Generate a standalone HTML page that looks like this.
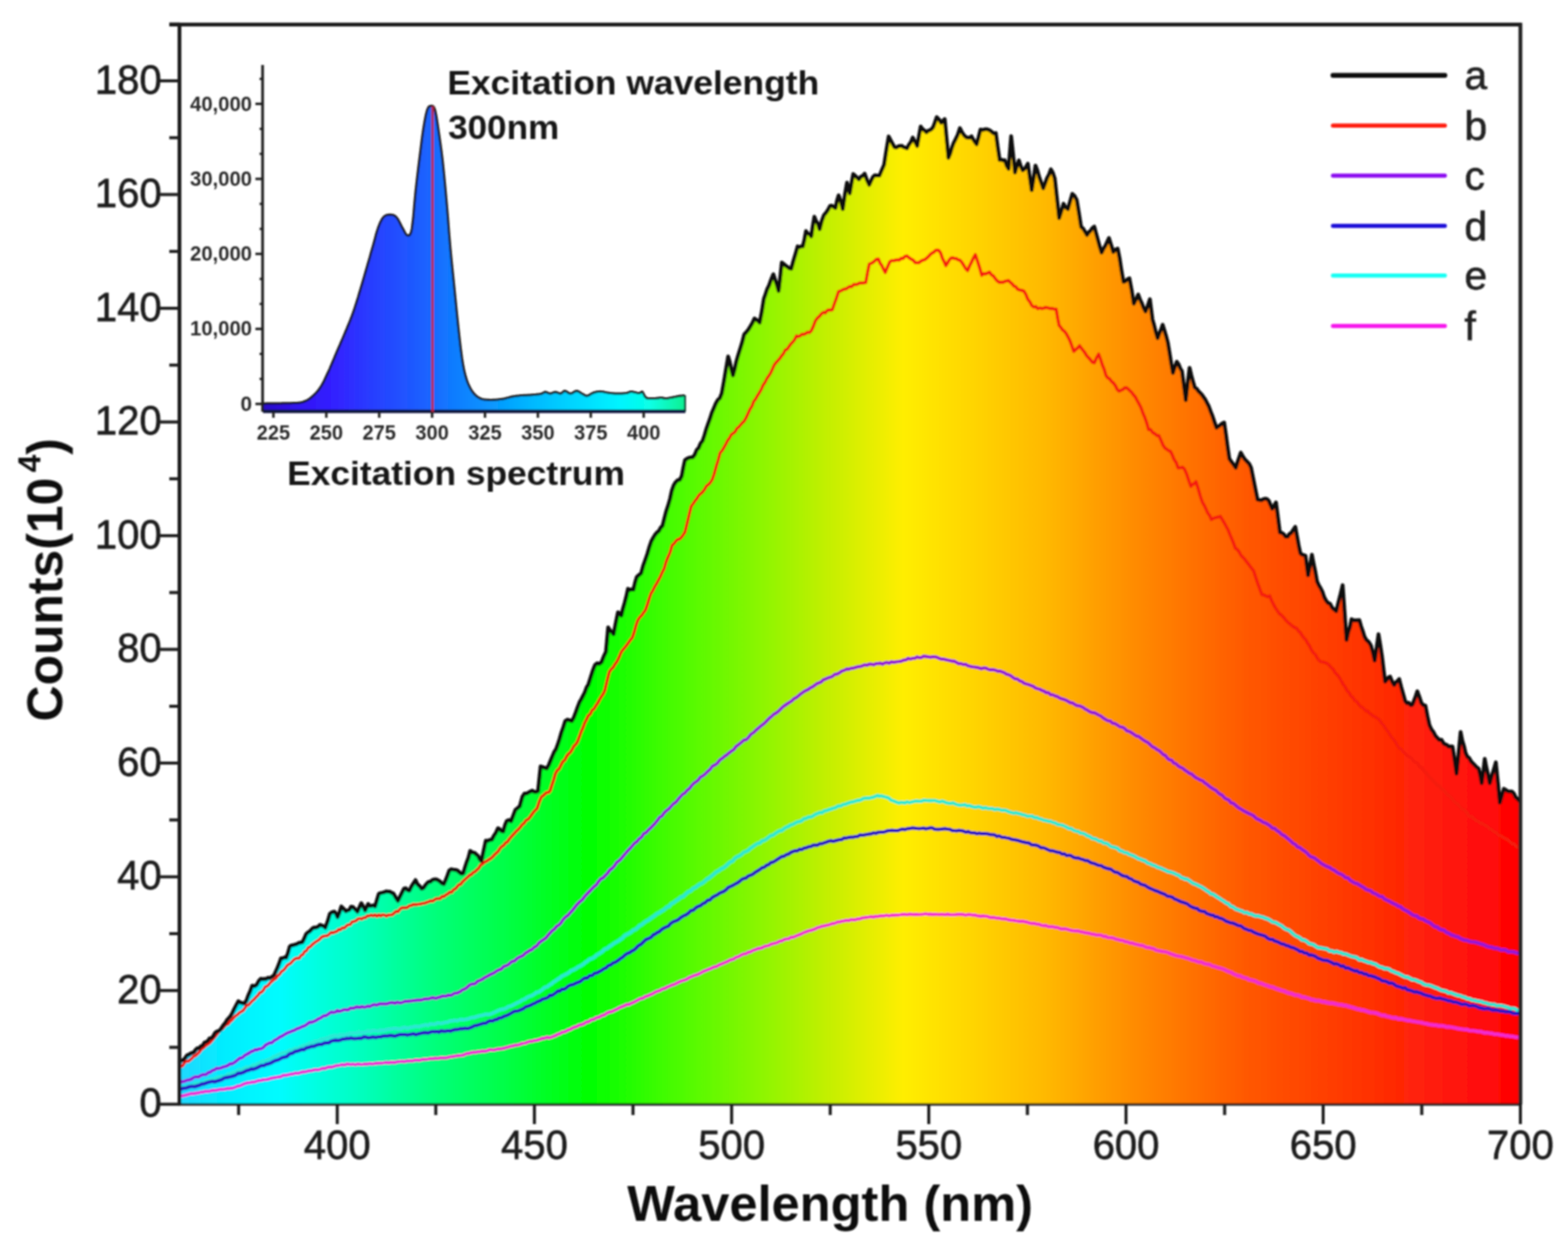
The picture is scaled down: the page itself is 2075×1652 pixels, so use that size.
<!DOCTYPE html><html><head><meta charset="utf-8"><title>Emission spectra</title>
<style>html,body{margin:0;padding:0;background:#fff;}svg{display:block;}text{font-family:"Liberation Sans",Arial,Helvetica,sans-serif;}</style></head><body>
<svg width="2075" height="1652" viewBox="0 0 2075 1652">
<defs><linearGradient id="gm" gradientUnits="userSpaceOnUse" x1="237" y1="0" x2="2012" y2="0"><stop offset="0.0000" stop-color="#20d8ff"/><stop offset="0.0355" stop-color="#00eeff"/><stop offset="0.0749" stop-color="#00fcff"/><stop offset="0.1031" stop-color="#00ffe0"/><stop offset="0.1313" stop-color="#00ffc4"/><stop offset="0.1594" stop-color="#00ffa0"/><stop offset="0.1932" stop-color="#00ff78"/><stop offset="0.2417" stop-color="#00ff48"/><stop offset="0.3059" stop-color="#00ff00"/><stop offset="0.3611" stop-color="#40fc00"/><stop offset="0.4299" stop-color="#88f600"/><stop offset="0.4806" stop-color="#c0f000"/><stop offset="0.5397" stop-color="#ffee00"/><stop offset="0.5932" stop-color="#ffd400"/><stop offset="0.6468" stop-color="#ffb800"/><stop offset="0.7115" stop-color="#ff8c00"/><stop offset="0.7961" stop-color="#ff5800"/><stop offset="0.8806" stop-color="#ff3400"/><stop offset="0.9594" stop-color="#ff1210"/><stop offset="1.0000" stop-color="#ff0000"/></linearGradient><linearGradient id="gi" gradientUnits="userSpaceOnUse" x1="348" y1="0" x2="907" y2="0"><stop offset="0.0000" stop-color="#2a0cc8"/><stop offset="0.0930" stop-color="#3214f6"/><stop offset="0.1646" stop-color="#3320ff"/><stop offset="0.2719" stop-color="#2642ff"/><stop offset="0.3792" stop-color="#1c60ff"/><stop offset="0.4508" stop-color="#0f7cff"/><stop offset="0.5403" stop-color="#0896ff"/><stop offset="0.6297" stop-color="#00b6ff"/><stop offset="0.7370" stop-color="#00d6ff"/><stop offset="0.8444" stop-color="#00f4ff"/><stop offset="0.9159" stop-color="#08ffe6"/><stop offset="1.0000" stop-color="#10f090"/></linearGradient><filter id="soft" x="0" y="0" width="100%" height="100%" filterUnits="userSpaceOnUse"><feGaussianBlur stdDeviation="0.8"/></filter></defs>
<rect width="2075" height="1652" fill="#fff"/>
<g filter="url(#soft)">
<path d="M237.5,1462.0L237.5,1406.0 239.5,1404.0 242.2,1403.4 244.8,1400.7 247.5,1396.9 249.8,1396.1 252.1,1394.6 254.4,1393.7 256.7,1392.7 259.0,1389.4 261.3,1387.5 263.6,1387.8 265.9,1384.9 268.2,1384.0 270.5,1380.2 272.8,1379.3 275.1,1377.9 277.4,1374.5 279.7,1374.3 282.0,1372.0 284.3,1367.7 286.6,1365.6 288.9,1364.8 291.2,1363.7 293.5,1360.2 295.8,1356.8 298.1,1354.3 300.4,1350.3 302.7,1347.8 305.0,1345.3 307.6,1340.6 310.2,1335.1 312.8,1330.2 315.4,1325.3 318.1,1327.1 320.8,1327.8 323.5,1328.3 326.1,1324.4 328.6,1317.6 331.2,1311.9 333.8,1304.7 336.7,1305.5 339.6,1303.9 342.5,1298.5 345.3,1295.6 347.6,1296.2 349.9,1295.7 352.2,1295.9 354.5,1294.2 356.8,1294.9 359.7,1293.2 362.6,1291.0 364.9,1286.0 367.2,1281.0 369.5,1275.2 371.8,1268.5 374.1,1268.7 376.4,1267.3 378.7,1267.8 381.0,1261.8 383.3,1253.3 385.5,1251.5 387.8,1251.3 390.0,1250.5 392.5,1249.8 395.1,1248.3 397.6,1247.8 400.1,1247.3 402.6,1242.5 405.2,1236.3 407.7,1234.1 410.2,1232.6 412.8,1229.6 415.3,1227.8 418.0,1227.9 420.7,1226.9 423.4,1224.2 425.8,1225.1 428.1,1225.8 430.5,1228.0 433.6,1219.7 436.6,1209.5 439.6,1207.4 442.6,1206.7 444.6,1209.2 446.7,1213.9 449.2,1208.0 451.7,1199.9 454.8,1203.1 457.8,1206.2 460.1,1205.1 462.4,1204.4 464.6,1200.2 466.9,1200.4 469.9,1203.6 473.0,1206.8 475.6,1200.9 478.1,1195.5 480.6,1199.8 483.1,1205.0 485.1,1201.1 487.2,1196.5 489.5,1199.2 491.8,1198.9 494.0,1198.4 496.3,1199.7 498.8,1191.6 501.3,1183.1 503.9,1182.1 506.4,1181.6 508.9,1180.8 511.5,1179.8 513.8,1180.4 516.0,1180.3 518.3,1181.8 520.6,1182.7 523.6,1187.8 526.6,1192.5 529.3,1187.0 532.0,1181.6 534.7,1176.2 537.1,1175.8 539.4,1178.4 541.8,1179.0 544.5,1173.3 547.2,1169.1 549.9,1165.0 552.6,1170.7 555.3,1173.0 558.0,1176.4 560.3,1175.4 562.5,1172.4 564.8,1169.5 567.1,1167.4 569.6,1167.1 572.2,1164.9 574.7,1164.0 577.2,1163.9 579.8,1165.2 582.3,1166.9 584.9,1169.3 587.4,1170.2 589.8,1165.0 592.1,1159.1 594.5,1152.4 597.2,1150.6 600.0,1151.1 602.6,1151.5 605.2,1152.2 607.8,1154.6 610.4,1156.6 613.0,1156.0 615.3,1148.5 617.6,1141.3 619.9,1135.3 622.2,1126.4 625.1,1128.4 628.0,1128.9 630.3,1131.1 632.6,1132.9 634.9,1137.4 637.2,1139.6 640.0,1126.2 642.9,1112.8 645.6,1113.1 648.3,1111.7 651.0,1111.4 653.7,1106.1 656.3,1102.3 659.0,1096.3 661.3,1097.6 663.7,1100.1 666.0,1100.7 668.3,1092.3 670.6,1086.8 673.5,1085.4 676.3,1087.0 679.2,1079.6 682.1,1071.9 685.0,1069.7 687.8,1067.3 691.3,1054.6 694.0,1050.5 696.6,1050.6 699.3,1049.1 701.8,1047.8 704.4,1046.6 706.9,1048.1 709.5,1048.2 712.0,1047.2 715.4,1014.5 718.1,1015.3 720.8,1016.4 723.5,1017.2 726.2,1012.7 728.8,1006.3 731.5,999.9 733.6,995.0 735.8,991.8 737.9,986.2 740.5,978.3 743.0,969.5 745.5,962.6 748.1,954.3 751.0,952.5 753.9,953.5 756.8,954.4 759.3,949.9 761.9,943.1 764.5,935.8 767.0,929.3 769.3,925.5 771.6,921.0 774.0,916.3 776.3,909.8 778.6,906.3 781.5,897.1 784.4,887.9 787.3,880.5 790.2,878.0 793.1,878.8 796.0,876.6 799.0,868.8 801.9,862.8 804.8,830.5 807.2,834.3 809.6,836.3 812.0,839.4 814.9,824.4 817.8,810.5 820.0,811.8 822.2,814.8 824.4,805.7 826.6,798.2 828.8,789.7 831.0,779.4 833.4,780.9 835.8,780.3 838.2,780.6 840.4,771.2 842.6,763.9 845.5,761.2 848.4,758.9 851.1,749.2 853.8,741.5 856.6,733.5 859.3,724.1 862.0,716.2 864.5,711.7 866.9,707.8 869.4,704.8 871.9,702.9 874.3,698.5 876.8,695.9 879.3,685.9 881.7,676.6 884.2,669.1 886.7,660.4 889.1,649.4 891.6,642.3 894.2,638.2 896.9,635.6 899.6,635.0 902.2,630.1 904.3,619.0 906.4,609.3 909.0,607.2 911.7,605.9 914.4,605.5 917.0,605.1 919.5,601.8 922.1,595.4 924.6,592.9 927.2,586.8 929.7,583.7 932.2,576.5 934.7,567.9 937.2,560.7 939.6,554.2 942.1,546.2 944.6,540.6 947.2,534.2 949.9,529.4 952.6,527.1 955.2,520.6 958.0,505.1 960.8,488.5 963.6,471.9 965.7,479.0 967.9,489.0 970.0,496.9 972.1,489.2 974.3,479.2 976.4,471.7 979.2,462.8 982.0,453.8 984.8,442.8 987.6,439.7 990.5,436.1 993.3,431.5 995.8,427.2 998.4,421.5 1000.7,423.2 1003.0,424.6 1005.3,426.9 1008.1,412.8 1010.9,395.4 1013.0,389.6 1015.0,383.4 1017.8,377.6 1020.6,369.7 1023.4,363.0 1025.7,370.0 1028.1,376.9 1030.4,385.2 1032.5,367.2 1034.6,347.6 1037.1,349.3 1039.6,351.6 1042.1,353.3 1044.6,355.1 1047.1,355.8 1049.9,345.5 1052.7,336.3 1055.5,326.1 1057.8,327.3 1060.1,326.1 1062.4,326.1 1064.5,317.2 1066.6,305.9 1068.9,309.0 1071.3,310.0 1073.6,312.8 1075.7,298.5 1077.7,286.9 1080.0,292.8 1082.4,296.0 1084.7,303.4 1087.5,292.3 1090.3,284.8 1093.1,281.6 1095.8,277.5 1098.6,272.4 1100.9,272.3 1103.3,273.9 1105.6,275.4 1107.7,265.4 1109.8,258.6 1112.5,265.7 1115.3,276.8 1118.1,257.8 1120.9,241.8 1124.5,256.0 1126.8,242.9 1129.1,230.4 1131.6,232.7 1134.1,235.0 1136.6,237.4 1139.1,234.0 1141.7,232.7 1144.2,229.9 1147.2,238.2 1150.3,244.8 1152.8,239.2 1155.3,234.2 1157.8,232.0 1160.8,232.4 1163.9,232.4 1167.0,224.9 1170.0,218.1 1173.0,198.9 1176.0,180.6 1178.5,185.5 1181.1,190.3 1183.6,194.8 1186.1,195.4 1188.6,193.8 1191.1,193.2 1193.4,193.0 1195.7,194.9 1197.9,195.4 1200.2,196.5 1202.7,191.8 1205.3,188.3 1207.8,182.1 1210.8,187.4 1213.8,193.3 1216.1,180.2 1218.4,167.5 1220.9,170.9 1223.5,172.8 1226.0,175.2 1228.2,173.1 1230.5,172.3 1232.8,170.9 1235.0,168.1 1237.3,161.9 1239.6,155.0 1242.6,158.2 1245.6,162.5 1247.9,159.8 1250.2,157.7 1252.7,184.1 1255.1,208.9 1257.4,203.6 1259.6,195.9 1261.9,189.7 1264.7,184.1 1267.5,178.2 1270.3,169.6 1273.1,175.2 1276.0,179.4 1278.8,181.9 1281.1,182.3 1283.3,182.2 1285.6,180.4 1287.9,184.6 1290.1,188.0 1292.4,191.0 1295.0,181.6 1297.5,171.5 1300.0,172.1 1302.5,171.5 1305.1,170.9 1307.6,171.6 1310.1,172.7 1312.7,174.9 1315.2,176.7 1317.8,176.1 1320.3,194.7 1322.9,211.8 1325.2,211.4 1327.4,212.4 1329.7,212.0 1332.2,219.4 1334.7,223.5 1338.1,180.3 1340.7,204.4 1343.2,228.4 1345.8,219.0 1348.3,212.3 1350.8,220.0 1353.4,225.5 1355.7,223.8 1357.9,220.6 1360.2,216.7 1362.8,234.6 1365.3,251.8 1367.8,236.1 1370.3,219.2 1372.8,225.7 1375.4,234.9 1378.0,242.0 1380.5,249.3 1383.0,242.9 1385.6,235.6 1388.2,230.9 1390.7,224.2 1393.2,228.5 1395.8,236.3 1398.7,262.6 1401.6,288.7 1404.5,279.5 1407.4,269.6 1410.3,274.8 1413.2,276.8 1416.1,266.6 1419.0,256.6 1422.0,259.4 1424.9,264.8 1427.8,282.2 1430.7,300.3 1433.3,302.5 1435.8,306.6 1438.4,311.1 1440.8,307.5 1443.2,305.4 1445.7,301.7 1448.1,299.9 1450.5,308.9 1452.9,317.7 1455.4,326.8 1457.8,334.4 1460.2,329.4 1462.7,325.5 1465.1,320.4 1467.5,315.1 1470.4,324.3 1473.3,333.7 1476.2,330.3 1479.1,329.2 1481.7,342.3 1484.2,358.8 1486.8,373.1 1489.4,372.3 1492.0,369.8 1494.6,368.4 1497.5,383.7 1500.4,402.0 1503.3,396.4 1506.2,389.9 1508.6,396.2 1511.1,401.6 1513.5,407.9 1515.9,412.3 1518.8,404.8 1521.7,396.1 1525.1,422.9 1527.4,431.0 1529.6,439.9 1531.9,447.6 1534.1,441.4 1536.4,436.2 1538.6,429.9 1540.9,437.3 1543.1,444.7 1545.4,453.3 1547.7,467.2 1549.9,480.9 1552.2,493.8 1554.8,485.3 1557.3,478.9 1559.6,482.0 1561.8,487.5 1564.1,491.0 1566.7,510.5 1569.2,529.8 1571.7,507.6 1574.2,486.9 1576.5,496.6 1578.7,504.8 1581.0,512.8 1583.4,514.3 1585.8,517.7 1588.1,520.1 1590.5,522.5 1592.9,526.0 1595.2,529.3 1597.4,533.6 1599.7,538.0 1602.2,544.8 1604.8,551.4 1607.3,559.2 1609.8,566.2 1612.3,564.5 1614.9,562.7 1617.5,560.5 1620.0,559.3 1622.3,575.1 1624.5,591.7 1626.8,607.1 1629.6,611.3 1632.5,615.0 1635.3,619.1 1637.5,612.4 1639.8,605.5 1642.0,599.1 1644.7,604.0 1647.4,608.1 1650.2,611.0 1652.9,613.7 1655.6,619.2 1658.4,633.0 1661.3,647.6 1664.1,661.2 1666.9,661.9 1669.7,661.9 1672.5,660.5 1674.7,660.1 1676.8,660.7 1679.1,663.0 1681.3,668.3 1683.6,673.4 1686.1,669.3 1688.6,665.1 1691.2,685.4 1693.7,704.7 1696.2,705.3 1698.8,707.0 1701.4,710.5 1703.9,710.6 1706.5,706.7 1709.0,705.3 1711.5,701.1 1714.1,697.3 1716.3,709.5 1718.6,721.9 1720.8,732.3 1723.1,734.2 1725.3,734.9 1727.6,735.7 1731.0,761.4 1733.5,748.7 1736.1,734.2 1738.4,746.4 1740.6,756.6 1742.9,769.6 1745.3,774.8 1747.6,778.5 1750.0,783.3 1752.3,790.3 1754.7,794.7 1757.4,798.2 1760.1,799.1 1762.9,804.4 1765.6,806.8 1768.3,809.0 1771.1,797.5 1774.0,786.4 1776.8,774.6 1779.3,809.5 1781.9,847.1 1784.1,836.9 1786.4,830.0 1788.6,819.6 1791.1,821.2 1793.7,821.1 1796.2,821.3 1798.8,820.8 1801.1,828.8 1803.3,835.1 1805.6,842.5 1808.4,847.4 1811.3,849.8 1814.1,854.3 1816.7,863.1 1819.2,874.5 1821.7,857.5 1824.2,839.5 1826.6,854.0 1829.0,869.7 1831.0,886.6 1833.0,902.3 1835.2,899.8 1837.4,896.8 1839.6,895.6 1842.3,902.3 1845.0,906.6 1847.2,903.0 1849.4,901.6 1851.6,898.8 1854.3,909.4 1856.9,918.7 1859.6,928.2 1861.9,930.8 1864.3,930.3 1866.7,933.2 1869.0,932.9 1871.2,927.5 1873.4,921.5 1875.6,915.0 1878.3,922.4 1881.0,930.6 1883.7,933.5 1886.3,933.9 1888.9,947.5 1891.6,959.8 1894.3,965.5 1896.9,969.0 1899.6,974.1 1902.3,977.2 1904.9,979.6 1907.6,979.3 1909.9,983.3 1912.2,985.4 1914.6,986.0 1916.9,988.2 1919.6,988.1 1922.2,988.3 1924.8,1004.9 1927.5,1024.1 1930.2,997.2 1932.9,969.0 1935.1,980.3 1937.3,987.2 1939.5,996.9 1941.8,1001.6 1944.2,1003.3 1946.5,1007.5 1948.8,1010.1 1951.5,1012.8 1954.1,1015.6 1956.8,1017.6 1958.8,1025.9 1960.8,1036.7 1962.8,1022.7 1964.8,1004.6 1967.0,1015.9 1969.3,1026.1 1971.5,1036.7 1974.2,1026.8 1976.8,1018.6 1979.5,1009.1 1982.2,1035.6 1984.8,1062.6 1987.4,1053.5 1990.1,1044.1 1992.8,1045.7 1995.4,1047.6 1998.1,1047.8 2000.8,1047.7 2003.2,1050.2 2005.7,1055.3 2008.1,1057.3 2010.5,1060.0 2012.0,1462.0Z" fill="url(#gm)"/>
<path d="M237.5,1451.0L240.6,1450.8 243.7,1450.2 246.9,1449.3 250.0,1448.4 253.1,1447.6 256.2,1447.8 259.3,1447.0 262.5,1446.8 265.6,1445.7 268.7,1445.6 271.5,1444.6 274.5,1444.8 277.7,1444.3 281.0,1443.5 284.3,1443.2 287.6,1443.0 291.0,1442.0 294.2,1442.0 297.4,1441.9 300.4,1440.8 303.3,1441.0 305.9,1440.5 308.3,1440.2 312.2,1438.7 314.7,1437.6 316.7,1437.6 318.8,1436.7 321.9,1435.2 326.8,1433.5 328.9,1433.1 331.3,1433.1 333.8,1432.2 336.6,1432.4 339.5,1431.3 342.5,1430.2 345.7,1430.1 348.9,1429.1 352.2,1429.1 355.5,1428.4 358.8,1427.2 362.2,1426.7 365.5,1426.1 368.7,1425.6 371.8,1425.2 374.9,1423.4 377.8,1423.3 380.6,1423.0 384.0,1422.0 387.4,1421.7 390.8,1420.5 394.1,1420.9 397.3,1419.9 400.5,1418.8 403.6,1419.0 406.7,1418.0 409.7,1417.4 412.6,1417.2 415.5,1416.3 418.3,1415.9 421.0,1416.2 423.6,1415.5 427.1,1414.0 430.4,1414.3 433.5,1412.7 436.5,1412.5 439.4,1412.5 442.1,1411.6 444.9,1410.7 447.5,1410.3 450.2,1409.8 452.9,1409.2 456.1,1409.9 458.9,1408.5 461.6,1408.8 464.3,1409.1 467.1,1408.7 470.2,1409.3 473.7,1408.4 477.9,1409.1 480.3,1408.9 482.9,1408.5 485.7,1408.6 488.7,1407.9 491.8,1408.2 495.0,1408.0 498.3,1407.5 501.6,1407.3 504.9,1407.4 508.1,1406.9 511.3,1406.3 514.4,1407.0 517.4,1406.2 520.2,1406.3 522.8,1406.5 525.2,1405.6 529.2,1405.1 532.5,1405.0 535.2,1405.3 537.6,1404.7 540.0,1404.3 542.7,1404.2 546.0,1404.4 550.0,1403.2 552.4,1403.2 555.0,1403.5 557.7,1402.9 560.6,1402.2 563.7,1402.2 566.8,1401.9 570.0,1401.2 573.3,1401.2 576.5,1400.8 579.8,1401.1 583.0,1400.2 586.2,1400.3 589.2,1400.4 592.1,1400.0 594.9,1399.0 597.5,1398.9 601.0,1398.1 604.2,1397.7 607.2,1397.2 610.0,1397.1 612.8,1396.7 615.5,1395.4 618.1,1394.5 620.9,1394.4 623.7,1393.4 626.6,1392.8 629.8,1393.1 632.6,1391.9 635.4,1392.2 638.3,1391.4 641.2,1391.7 644.1,1391.2 647.1,1389.8 650.2,1389.6 653.3,1390.1 656.4,1389.2 659.6,1388.5 662.9,1388.3 666.3,1387.8 669.7,1386.7 672.4,1386.1 675.4,1385.0 678.4,1384.6 681.5,1383.6 684.8,1383.4 688.1,1382.5 691.4,1381.1 694.7,1380.9 698.0,1379.4 701.2,1378.5 704.4,1378.4 707.4,1377.3 710.3,1377.1 713.0,1376.1 715.6,1375.5 717.9,1374.2 720.0,1374.5 724.3,1372.7 725.4,1373.5 726.1,1374.0 728.8,1373.2 736.0,1370.4 737.9,1369.1 739.9,1368.6 742.0,1367.8 744.3,1366.1 746.7,1366.1 749.2,1365.0 751.8,1363.3 754.5,1362.6 757.3,1361.0 760.2,1359.6 763.2,1358.8 766.3,1356.8 769.4,1356.3 772.6,1355.2 775.9,1352.9 779.2,1352.3 782.5,1349.9 785.9,1349.3 789.3,1347.2 792.7,1346.5 796.2,1344.4 799.6,1343.5 803.1,1341.0 806.5,1339.6 809.9,1339.0 813.3,1337.3 816.7,1335.7 820.1,1333.7 823.4,1332.4 826.2,1331.4 829.1,1329.8 832.1,1329.7 835.1,1328.1 838.1,1327.0 841.2,1325.4 844.3,1323.6 847.5,1321.9 850.7,1321.3 853.9,1319.2 857.1,1318.3 860.4,1316.8 863.6,1315.4 866.9,1313.5 870.1,1312.1 873.4,1311.2 876.7,1309.2 879.9,1308.4 883.1,1306.5 886.4,1305.3 889.5,1303.8 892.7,1302.9 895.8,1301.3 898.9,1299.8 902.0,1298.4 905.0,1297.6 907.9,1296.7 910.8,1294.8 913.7,1293.3 916.5,1292.3 919.2,1291.0 921.8,1290.3 924.4,1289.4 926.9,1288.1 930.8,1285.9 934.5,1284.5 938.1,1283.0 941.6,1281.6 944.9,1280.0 948.2,1279.3 951.3,1277.4 954.3,1276.2 957.3,1275.0 960.2,1273.7 963.0,1272.6 965.8,1270.9 968.5,1270.1 971.2,1269.3 973.9,1267.2 976.5,1266.6 979.2,1265.2 981.9,1263.7 984.5,1262.6 987.3,1262.4 990.0,1260.5 993.2,1260.0 996.4,1258.1 999.5,1257.2 1002.5,1255.7 1005.5,1255.3 1008.5,1254.5 1011.4,1252.8 1014.4,1252.2 1017.3,1251.6 1020.1,1249.9 1023.0,1249.1 1025.9,1248.5 1028.8,1247.7 1031.6,1245.9 1034.5,1245.5 1037.4,1243.9 1040.4,1242.9 1043.3,1242.9 1046.3,1240.7 1049.2,1240.7 1052.2,1239.4 1055.1,1238.2 1058.1,1237.1 1061.1,1235.9 1064.0,1234.4 1067.0,1233.4 1069.9,1232.1 1072.9,1231.8 1075.9,1230.6 1078.8,1229.6 1081.8,1227.8 1084.8,1227.3 1087.7,1226.0 1090.7,1225.7 1093.6,1224.8 1096.6,1224.3 1099.6,1223.2 1102.5,1222.5 1105.5,1221.9 1108.4,1220.4 1111.4,1220.4 1114.4,1219.2 1117.3,1219.0 1120.3,1218.2 1123.2,1218.7 1126.2,1217.1 1129.2,1217.7 1132.1,1217.3 1135.1,1216.3 1138.1,1216.3 1141.0,1215.0 1144.0,1214.7 1146.9,1214.2 1149.9,1213.9 1152.9,1213.4 1155.8,1214.1 1158.8,1212.9 1161.7,1213.2 1164.7,1212.5 1167.7,1212.1 1170.6,1212.2 1173.6,1211.7 1176.6,1212.4 1179.5,1211.5 1182.5,1211.5 1185.4,1211.3 1188.4,1211.2 1191.4,1210.9 1194.3,1210.5 1197.3,1210.2 1200.2,1211.0 1203.2,1210.0 1206.2,1210.2 1209.2,1210.6 1212.3,1210.2 1215.4,1210.6 1218.6,1210.4 1221.7,1210.1 1224.8,1209.6 1228.0,1210.2 1231.1,1210.0 1234.2,1210.5 1237.2,1210.2 1240.2,1210.4 1243.1,1210.6 1246.0,1210.2 1248.8,1210.7 1251.4,1210.8 1254.0,1209.9 1256.5,1210.9 1260.2,1210.9 1263.6,1210.9 1266.7,1210.3 1269.5,1210.3 1272.2,1210.2 1274.9,1210.6 1277.6,1211.3 1280.3,1210.8 1283.3,1210.6 1286.5,1211.2 1290.0,1211.2 1292.6,1212.1 1295.2,1212.5 1298.0,1213.0 1300.8,1212.3 1303.6,1212.9 1306.5,1212.9 1309.5,1214.2 1312.5,1214.5 1315.6,1214.5 1318.7,1215.4 1321.8,1215.3 1325.0,1216.1 1328.2,1216.2 1331.5,1216.5 1334.8,1217.7 1338.1,1218.0 1340.9,1218.1 1343.8,1218.9 1346.7,1219.1 1349.7,1219.8 1352.7,1219.4 1355.7,1220.0 1358.8,1220.5 1361.9,1221.7 1365.0,1222.4 1368.1,1222.2 1371.3,1223.2 1374.4,1223.3 1377.6,1224.6 1380.7,1225.3 1383.9,1225.0 1387.0,1226.6 1390.1,1226.8 1393.2,1226.7 1396.3,1227.5 1399.4,1227.8 1402.4,1229.0 1405.5,1229.8 1408.5,1229.4 1411.6,1229.9 1414.7,1230.9 1417.7,1231.7 1420.8,1232.1 1423.8,1232.2 1426.9,1232.3 1429.9,1233.4 1433.0,1233.8 1436.1,1234.7 1439.1,1235.0 1442.2,1235.7 1445.2,1236.6 1448.3,1236.8 1451.3,1237.8 1454.4,1237.6 1457.4,1238.0 1460.4,1239.7 1463.3,1239.3 1466.1,1241.1 1468.9,1241.1 1471.7,1241.3 1474.5,1242.2 1477.4,1243.4 1480.2,1243.8 1483.1,1244.8 1486.0,1244.9 1488.9,1246.5 1492.0,1246.8 1495.1,1248.2 1498.3,1248.2 1501.7,1249.7 1505.1,1250.4 1508.7,1251.3 1512.5,1251.8 1515.1,1253.1 1517.8,1254.2 1520.6,1254.1 1523.5,1255.3 1526.5,1255.6 1529.5,1257.6 1532.7,1258.4 1535.9,1259.0 1539.1,1259.6 1542.4,1260.0 1545.7,1261.0 1549.1,1262.6 1552.4,1263.7 1555.8,1264.8 1559.2,1265.6 1562.5,1266.0 1565.8,1266.8 1569.1,1268.0 1572.3,1268.7 1575.5,1269.9 1578.6,1271.1 1581.6,1271.5 1584.6,1273.0 1587.5,1273.5 1590.2,1273.5 1592.8,1275.1 1595.4,1275.8 1597.8,1276.5 1600.0,1276.4 1604.5,1278.9 1608.5,1279.7 1612.0,1281.0 1615.1,1281.7 1617.9,1282.5 1620.4,1283.5 1622.8,1284.7 1625.1,1285.8 1627.4,1286.6 1629.9,1287.4 1632.4,1289.2 1635.2,1290.3 1638.4,1291.7 1641.2,1291.8 1644.0,1293.5 1646.9,1294.3 1649.8,1294.8 1652.8,1296.8 1655.9,1297.3 1658.9,1298.2 1662.0,1299.2 1665.1,1301.2 1668.3,1301.5 1671.4,1302.8 1674.5,1304.0 1677.7,1304.9 1680.8,1306.3 1683.9,1306.6 1686.9,1308.0 1689.9,1309.2 1693.0,1310.2 1696.0,1311.2 1699.0,1311.8 1702.0,1313.2 1705.1,1314.5 1708.1,1314.9 1711.1,1316.0 1714.1,1317.2 1717.2,1317.4 1720.2,1318.3 1723.2,1320.0 1726.2,1320.1 1729.3,1321.0 1732.3,1321.8 1735.3,1323.3 1738.3,1323.5 1741.3,1324.6 1744.4,1324.4 1747.4,1325.1 1750.4,1326.2 1753.5,1326.3 1756.5,1327.3 1759.5,1327.7 1762.5,1327.7 1765.5,1328.3 1768.6,1329.2 1771.6,1329.9 1774.6,1330.0 1777.6,1330.7 1780.7,1331.0 1783.7,1332.0 1786.7,1332.8 1789.7,1333.6 1792.8,1334.6 1795.8,1335.6 1798.8,1336.2 1801.8,1337.0 1804.9,1337.3 1807.9,1338.3 1810.9,1339.4 1813.9,1340.4 1817.0,1340.4 1820.0,1340.9 1823.0,1341.7 1826.0,1343.0 1829.1,1344.2 1832.1,1344.0 1835.1,1345.4 1838.2,1345.9 1841.2,1346.8 1844.2,1347.5 1847.3,1347.2 1850.3,1348.7 1853.3,1348.5 1856.3,1349.1 1859.4,1350.0 1862.4,1350.7 1865.4,1350.8 1868.5,1351.6 1871.5,1352.1 1874.5,1352.6 1877.6,1353.1 1880.6,1353.5 1883.6,1354.3 1886.4,1354.9 1889.2,1355.5 1891.9,1356.2 1894.6,1356.5 1897.3,1356.8 1900.0,1357.0 1902.7,1357.7 1905.5,1357.6 1908.4,1358.0 1911.4,1358.4 1914.6,1359.5 1917.9,1359.3 1921.4,1359.9 1925.1,1360.6 1929.0,1361.5 1932.0,1362.0 1935.0,1362.4 1938.1,1362.9 1941.1,1362.8 1944.1,1364.1 1947.1,1364.4 1950.1,1364.4 1953.1,1364.9 1956.2,1365.5 1959.2,1365.4 1962.2,1366.5 1965.2,1367.3 1968.2,1367.1 1971.3,1367.7 1974.3,1367.8 1977.3,1369.1 1980.3,1368.9 1983.3,1369.3 1986.4,1370.2 1989.4,1370.2 1992.4,1371.3 1995.4,1371.2 1998.4,1371.8 2001.4,1371.9 2004.5,1372.7 2007.5,1373.0 2010.5,1373.5" fill="none" stroke="#f22ad4" stroke-width="4.4" stroke-linejoin="round" stroke-linecap="round"/>
<path d="M237.5,1440.0L240.4,1439.5 243.3,1438.9 246.3,1438.3 249.2,1437.8 252.1,1436.7 255.0,1436.3 257.9,1433.9 260.9,1433.9 263.8,1434.0 266.7,1432.8 269.6,1432.5 272.5,1430.3 275.4,1430.2 278.4,1429.0 281.3,1428.8 284.2,1428.1 287.2,1426.2 290.2,1425.6 293.1,1424.8 296.1,1424.9 299.2,1423.6 302.2,1421.5 305.2,1421.6 308.2,1419.3 311.2,1419.1 314.3,1417.1 317.3,1415.7 320.3,1416.2 323.3,1413.9 326.4,1412.7 329.4,1413.0 332.4,1411.7 335.4,1409.5 338.3,1409.6 341.3,1407.6 344.2,1406.7 347.1,1404.7 349.9,1404.9 352.8,1403.2 355.8,1402.5 358.7,1401.2 361.6,1398.9 364.7,1397.8 367.7,1396.3 370.8,1395.0 374.0,1393.7 377.3,1392.9 380.6,1392.2 383.3,1390.1 386.1,1390.3 389.0,1388.6 391.9,1387.5 394.8,1387.4 397.8,1385.7 400.8,1384.3 403.8,1383.5 406.9,1382.8 410.0,1380.5 413.0,1381.1 416.1,1378.3 419.3,1378.6 422.4,1377.8 425.5,1375.3 428.6,1375.8 431.7,1374.1 434.7,1373.7 437.8,1371.8 440.8,1371.2 443.8,1370.8 446.9,1371.5 449.9,1369.6 453.0,1370.0 456.1,1369.9 459.2,1369.4 462.3,1367.9 465.4,1367.5 468.5,1367.5 471.6,1367.6 474.7,1366.0 477.7,1366.9 480.8,1366.6 483.8,1366.4 486.7,1364.7 489.7,1366.0 492.6,1364.2 495.4,1364.3 498.2,1364.5 501.0,1364.8 504.3,1363.3 507.5,1364.0 510.4,1363.1 513.3,1362.4 516.1,1362.2 518.8,1361.7 521.6,1361.3 524.3,1361.2 527.0,1361.9 529.9,1362.2 532.8,1360.4 535.8,1359.9 539.1,1361.3 542.5,1360.0 546.1,1359.4 550.0,1358.5 552.5,1358.8 555.0,1358.9 557.7,1357.8 560.5,1357.4 563.4,1356.3 566.4,1357.4 569.5,1355.3 572.6,1355.7 575.8,1355.8 579.0,1354.1 582.3,1354.6 585.5,1354.5 588.8,1353.4 592.1,1353.2 595.4,1351.4 598.6,1351.5 601.8,1350.5 605.0,1351.2 608.1,1349.7 611.2,1349.4 614.2,1349.9 617.0,1349.1 619.8,1348.8 622.5,1347.4 625.1,1346.9 627.5,1346.9 629.8,1346.0 634.1,1344.7 638.0,1344.1 641.5,1342.8 644.7,1342.5 647.6,1342.8 650.3,1342.0 652.9,1340.6 655.4,1339.5 658.0,1338.4 660.6,1336.9 663.4,1336.2 666.4,1335.9 669.7,1334.7 672.4,1332.6 675.3,1332.1 678.4,1330.7 681.5,1329.0 684.7,1327.4 688.0,1326.0 691.3,1323.6 694.5,1322.6 697.8,1320.1 701.0,1318.8 704.2,1317.7 707.2,1315.9 710.1,1313.6 712.9,1313.3 715.5,1311.4 717.9,1309.9 720.0,1307.7 724.7,1305.9 727.8,1303.3 730.0,1302.3 732.0,1300.2 734.6,1298.8 738.5,1295.9 740.8,1294.7 743.5,1292.2 746.3,1291.0 749.4,1289.4 752.5,1287.7 755.8,1284.9 759.1,1283.8 762.4,1281.9 765.6,1279.6 768.8,1278.3 771.7,1276.5 774.5,1274.0 777.0,1272.5 780.6,1269.5 783.9,1268.6 786.8,1266.8 789.6,1264.2 792.2,1262.8 794.8,1261.1 797.4,1259.3 800.2,1256.4 803.1,1255.6 806.0,1253.3 808.9,1251.5 811.8,1249.2 814.7,1247.6 817.6,1246.0 820.5,1243.8 823.4,1242.0 826.3,1238.8 829.2,1237.1 832.1,1235.7 834.9,1234.1 837.8,1231.4 840.7,1230.3 843.6,1228.2 846.5,1225.2 849.2,1224.1 851.6,1222.1 853.8,1220.3 856.1,1218.9 858.7,1217.4 861.8,1215.1 865.5,1212.6 870.0,1209.2 872.2,1208.4 874.6,1206.6 877.0,1205.3 879.7,1203.4 882.4,1200.8 885.3,1200.0 888.2,1196.3 891.3,1194.9 894.4,1192.5 897.6,1190.5 900.8,1187.7 904.0,1186.7 907.3,1183.6 910.6,1180.7 913.9,1179.4 917.2,1176.1 920.5,1174.6 923.7,1172.0 926.9,1170.1 929.8,1168.8 932.7,1166.4 935.7,1163.6 938.7,1162.1 941.7,1159.6 944.8,1156.9 947.8,1154.2 950.9,1152.8 954.0,1150.4 957.1,1148.9 960.2,1146.7 963.3,1143.8 966.4,1141.1 969.5,1139.9 972.5,1136.1 975.5,1134.1 978.5,1132.9 981.4,1130.9 984.3,1128.1 987.2,1127.1 990.0,1125.7 993.2,1122.7 996.4,1120.8 999.5,1118.4 1002.5,1116.6 1005.5,1116.0 1008.5,1113.1 1011.4,1112.4 1014.4,1110.5 1017.3,1108.2 1020.1,1106.0 1023.0,1105.6 1025.9,1103.2 1028.8,1101.4 1031.6,1099.7 1034.5,1099.4 1037.4,1097.0 1040.4,1095.1 1043.3,1094.0 1046.3,1091.9 1049.2,1091.3 1052.2,1089.6 1055.1,1088.0 1058.1,1087.5 1061.1,1086.3 1064.0,1083.6 1067.0,1083.2 1069.9,1081.6 1072.9,1081.5 1075.9,1080.1 1078.8,1078.0 1081.8,1076.9 1084.8,1075.5 1087.7,1075.9 1090.7,1073.6 1093.6,1073.1 1096.6,1071.8 1099.6,1071.0 1102.7,1069.9 1105.9,1069.0 1109.1,1066.9 1112.3,1067.0 1115.6,1065.1 1118.8,1064.5 1122.0,1063.2 1125.2,1062.1 1128.4,1061.6 1131.5,1060.6 1134.5,1059.6 1137.4,1059.4 1140.2,1058.4 1142.9,1056.7 1145.4,1056.5 1147.7,1056.2 1149.9,1056.5 1154.6,1055.5 1158.4,1054.2 1161.4,1052.9 1163.9,1054.1 1166.2,1053.6 1168.6,1054.2 1171.2,1054.9 1174.2,1055.7 1176.8,1056.8 1179.3,1059.3 1182.1,1060.1 1185.5,1061.5 1189.8,1063.1 1192.1,1062.1 1194.7,1062.2 1197.4,1063.0 1200.2,1061.4 1203.2,1062.4 1206.2,1061.8 1209.4,1060.9 1212.7,1060.3 1216.0,1060.8 1219.4,1060.7 1222.9,1059.2 1226.3,1059.7 1229.8,1059.9 1232.5,1059.9 1235.2,1059.8 1237.9,1059.8 1240.7,1060.8 1243.6,1061.6 1246.4,1060.6 1249.3,1061.3 1252.3,1062.7 1255.3,1063.1 1258.3,1063.4 1261.3,1062.7 1264.3,1064.4 1267.4,1065.4 1270.5,1065.9 1273.7,1065.8 1276.8,1065.1 1280.0,1067.0 1282.9,1066.3 1285.8,1067.5 1288.7,1068.4 1291.7,1068.4 1294.7,1067.7 1297.8,1068.4 1300.8,1070.0 1303.9,1069.0 1307.0,1070.2 1310.1,1070.3 1313.2,1070.3 1316.3,1071.6 1319.5,1071.0 1322.6,1071.6 1325.7,1072.6 1328.8,1072.6 1331.9,1073.1 1335.0,1074.6 1338.1,1075.5 1341.2,1076.4 1344.2,1075.7 1347.3,1076.9 1350.3,1077.3 1353.4,1078.5 1356.5,1079.0 1359.5,1080.5 1362.6,1080.2 1365.7,1080.3 1368.7,1082.2 1371.8,1082.0 1374.9,1083.7 1377.9,1084.3 1381.0,1085.8 1384.1,1086.1 1387.1,1087.1 1390.2,1087.3 1393.2,1088.8 1396.3,1089.3 1399.4,1091.2 1402.4,1091.8 1405.5,1092.2 1408.5,1093.5 1411.6,1094.9 1414.7,1096.7 1417.7,1096.9 1420.8,1099.1 1423.8,1100.2 1426.9,1100.5 1429.9,1102.8 1433.0,1103.0 1436.1,1104.4 1439.1,1106.5 1442.2,1107.2 1445.2,1109.7 1448.3,1110.3 1451.3,1111.3 1454.4,1113.4 1457.5,1113.4 1460.5,1115.9 1463.6,1116.1 1466.6,1117.6 1469.7,1120.4 1472.7,1121.3 1475.8,1121.8 1478.9,1123.0 1481.9,1126.0 1485.0,1126.8 1488.0,1128.5 1491.1,1128.7 1494.1,1130.9 1497.2,1131.8 1500.3,1133.0 1503.3,1134.6 1506.4,1136.5 1509.4,1137.4 1512.5,1138.8 1515.6,1139.7 1518.8,1142.4 1522.0,1143.4 1525.3,1145.1 1528.5,1145.9 1531.9,1148.0 1535.2,1148.9 1538.5,1150.4 1541.8,1151.8 1545.0,1153.5 1548.2,1154.2 1551.4,1155.1 1554.5,1156.3 1557.4,1157.9 1560.3,1158.9 1563.1,1161.7 1565.8,1162.2 1568.3,1163.8 1570.7,1163.6 1574.8,1166.4 1578.3,1169.0 1581.3,1170.1 1584.1,1171.3 1586.6,1172.8 1589.0,1173.6 1591.5,1175.2 1594.0,1176.8 1596.8,1178.9 1600.0,1180.8 1602.6,1183.3 1605.3,1183.6 1608.0,1185.5 1610.8,1187.4 1613.6,1189.0 1616.5,1191.1 1619.5,1192.9 1622.5,1195.3 1625.5,1196.3 1628.7,1199.7 1631.8,1200.5 1635.1,1203.2 1638.4,1204.3 1641.2,1205.5 1644.0,1206.3 1646.9,1208.2 1649.8,1207.7 1652.8,1209.7 1655.9,1209.9 1658.9,1211.5 1662.0,1212.5 1665.1,1212.4 1668.3,1213.5 1671.4,1214.1 1674.5,1215.6 1677.7,1216.4 1680.8,1218.2 1683.9,1220.5 1686.9,1220.8 1689.9,1222.2 1693.0,1224.1 1696.0,1225.5 1699.0,1228.2 1702.0,1230.1 1705.1,1231.0 1708.1,1233.2 1711.1,1236.0 1714.1,1238.5 1717.2,1239.9 1720.2,1241.5 1723.2,1244.3 1726.2,1244.4 1729.3,1246.2 1732.3,1249.1 1735.3,1249.8 1738.3,1250.5 1741.3,1252.6 1744.4,1254.5 1747.4,1254.6 1750.4,1255.3 1753.5,1255.7 1756.5,1256.5 1759.5,1258.8 1762.5,1258.8 1765.5,1260.4 1768.6,1259.5 1771.6,1260.7 1774.6,1261.1 1777.6,1262.6 1780.7,1262.9 1783.7,1264.2 1786.7,1265.4 1789.7,1266.2 1792.8,1266.8 1795.8,1267.8 1798.8,1270.5 1801.8,1270.1 1804.9,1271.7 1807.9,1272.6 1810.9,1273.9 1813.9,1274.1 1817.0,1275.6 1820.0,1276.3 1823.0,1278.2 1826.0,1280.0 1829.1,1280.5 1832.1,1282.1 1835.1,1282.1 1838.2,1283.0 1841.2,1285.1 1844.2,1286.2 1847.3,1287.6 1850.3,1288.5 1853.3,1290.2 1856.3,1291.6 1859.4,1293.2 1862.4,1293.4 1865.4,1294.8 1868.5,1296.8 1871.5,1296.9 1874.5,1297.9 1877.6,1299.4 1880.6,1300.2 1883.6,1302.5 1886.7,1303.7 1889.7,1304.0 1892.7,1304.7 1895.7,1305.8 1898.8,1307.2 1901.8,1308.0 1904.8,1309.7 1907.8,1311.0 1910.9,1311.5 1913.9,1312.2 1916.9,1314.3 1919.9,1314.1 1923.0,1315.4 1926.0,1316.5 1929.0,1317.6 1932.1,1318.0 1935.2,1319.4 1938.3,1320.1 1941.5,1321.8 1944.6,1322.2 1947.8,1323.7 1951.0,1324.0 1954.2,1325.0 1957.3,1325.4 1960.4,1325.9 1963.4,1327.3 1966.4,1327.7 1969.3,1328.9 1972.1,1329.2 1974.8,1329.7 1977.4,1329.6 1980.4,1331.2 1983.4,1331.1 1986.4,1331.3 1989.4,1331.8 1992.4,1332.7 1995.5,1333.5 1998.5,1334.9 2001.5,1334.9 2004.5,1335.1 2007.5,1337.0 2010.5,1337.2" fill="none" stroke="#2ce8d4" stroke-width="4.6" stroke-linejoin="round" stroke-linecap="round"/>
<path d="M237.5,1442.5L240.4,1441.3 243.3,1440.4 246.3,1440.2 249.2,1439.1 252.1,1438.2 255.0,1438.1 257.9,1438.4 260.9,1437.4 263.8,1436.7 266.7,1435.0 269.6,1434.9 272.5,1433.7 275.4,1432.8 278.4,1432.0 281.3,1431.5 284.2,1432.1 287.2,1431.0 290.2,1430.1 293.2,1429.2 296.3,1427.2 299.3,1426.4 302.4,1426.0 305.5,1425.2 308.5,1424.4 311.6,1423.5 314.7,1421.0 317.7,1420.9 320.7,1420.0 323.7,1418.7 326.6,1417.1 329.5,1416.6 332.4,1415.0 335.7,1415.3 339.0,1414.1 342.4,1412.3 345.7,1410.7 349.0,1410.6 352.3,1408.8 355.6,1408.1 358.8,1406.9 361.9,1405.1 364.8,1403.8 367.7,1403.1 370.4,1401.8 372.9,1400.3 375.2,1399.6 379.5,1398.7 382.4,1395.8 384.7,1394.5 387.0,1394.3 390.1,1392.2 394.6,1391.1 396.9,1390.2 399.5,1389.1 402.4,1389.5 405.4,1387.1 408.6,1386.6 412.0,1385.2 415.4,1385.1 418.8,1383.5 422.3,1382.7 425.7,1382.5 429.0,1380.8 432.2,1380.5 435.3,1380.3 438.2,1378.2 440.8,1377.5 444.4,1377.0 447.7,1377.4 450.8,1376.6 453.6,1375.5 456.3,1375.3 459.0,1374.7 461.6,1374.9 464.3,1373.9 467.1,1374.8 470.0,1374.9 472.9,1374.7 475.8,1374.1 478.6,1374.3 481.4,1372.5 484.3,1372.8 487.2,1373.9 490.3,1373.4 493.6,1372.6 497.2,1373.3 501.0,1372.5 503.6,1372.7 506.4,1371.6 509.4,1371.2 512.6,1371.4 515.8,1370.7 519.2,1370.9 522.6,1371.7 526.0,1370.3 529.4,1369.5 532.7,1369.4 536.0,1369.4 539.1,1370.2 542.1,1369.3 545.0,1368.9 547.6,1368.4 550.0,1369.8 554.0,1368.4 557.0,1367.8 559.5,1367.2 561.7,1367.0 563.9,1366.9 566.3,1367.5 569.4,1366.2 573.3,1365.5 575.6,1366.0 578.1,1365.3 580.8,1366.4 583.6,1364.6 586.6,1365.0 589.6,1365.2 592.7,1364.3 595.9,1365.0 599.1,1363.7 602.4,1362.9 605.7,1362.8 609.0,1361.7 612.2,1361.9 615.4,1361.0 618.5,1361.6 621.6,1360.8 624.6,1359.5 627.6,1357.8 630.6,1357.4 633.6,1356.5 636.6,1355.5 639.6,1354.6 642.7,1354.7 645.7,1352.4 648.7,1351.2 651.7,1351.6 654.7,1349.9 657.7,1349.5 660.7,1347.3 663.7,1347.1 666.7,1345.4 669.7,1344.5 672.8,1343.2 675.9,1341.5 679.1,1339.5 682.4,1338.3 685.7,1338.1 689.0,1336.7 692.3,1335.3 695.5,1332.8 698.7,1331.9 701.8,1330.8 704.9,1329.1 707.8,1328.1 710.6,1326.3 713.2,1325.3 715.6,1324.3 717.9,1322.5 722.1,1321.7 725.3,1320.2 727.7,1317.4 729.9,1317.8 732.1,1316.6 734.9,1314.6 738.5,1311.7 740.9,1312.1 743.5,1309.4 746.3,1309.6 749.3,1307.7 752.3,1305.1 755.5,1303.8 758.7,1303.1 761.9,1301.5 765.1,1300.3 768.3,1299.1 771.3,1296.3 774.2,1294.5 777.0,1294.8 780.4,1291.4 783.7,1291.2 786.9,1288.2 789.9,1287.8 793.0,1286.1 796.0,1284.6 799.0,1282.4 801.9,1281.2 804.9,1278.3 808.0,1277.3 811.1,1274.8 814.3,1273.8 817.6,1271.6 820.8,1269.0 824.0,1267.0 827.2,1264.0 830.3,1262.0 833.3,1261.0 836.1,1258.8 838.8,1257.7 841.9,1254.9 844.2,1252.3 846.2,1251.0 848.2,1250.0 850.9,1247.4 854.7,1243.8 860.0,1241.6 862.1,1240.2 864.4,1237.4 866.8,1236.6 869.4,1234.6 872.2,1233.5 875.1,1230.8 878.0,1228.8 881.1,1227.2 884.3,1226.1 887.5,1222.4 890.8,1220.3 894.2,1219.1 897.5,1217.5 900.9,1214.6 904.3,1212.4 907.7,1211.0 911.0,1208.7 914.3,1205.4 917.6,1204.8 920.8,1201.6 923.9,1199.8 926.9,1198.9 930.0,1196.2 933.1,1195.0 936.2,1191.9 939.3,1191.3 942.4,1188.1 945.5,1186.2 948.6,1184.9 951.7,1182.7 954.7,1181.2 957.8,1180.0 960.8,1177.8 963.8,1174.7 966.8,1173.4 969.8,1172.0 972.8,1170.2 975.7,1168.8 978.6,1166.7 981.5,1164.2 984.4,1162.8 987.2,1162.3 990.0,1159.7 993.2,1158.6 996.4,1157.1 999.5,1154.6 1002.5,1152.9 1005.5,1151.0 1008.5,1148.6 1011.4,1148.0 1014.4,1145.4 1017.3,1144.5 1020.1,1141.8 1023.0,1141.2 1025.9,1139.5 1028.8,1137.6 1031.6,1135.8 1034.5,1133.8 1037.4,1133.5 1040.4,1131.4 1043.3,1130.7 1046.3,1128.5 1049.2,1127.2 1052.2,1126.2 1055.1,1126.4 1058.1,1124.2 1061.1,1124.6 1064.0,1122.7 1067.0,1122.2 1069.9,1120.9 1072.9,1120.6 1075.9,1118.9 1078.8,1118.7 1081.8,1118.9 1084.8,1116.8 1087.7,1116.9 1090.7,1115.6 1093.6,1114.8 1096.6,1113.5 1099.6,1112.8 1102.5,1113.8 1105.5,1112.9 1108.4,1112.1 1111.4,1111.5 1114.4,1111.1 1117.3,1109.1 1120.3,1109.3 1123.2,1108.5 1126.2,1108.1 1129.2,1108.2 1132.1,1107.3 1135.1,1107.2 1138.1,1105.1 1141.0,1105.6 1144.0,1105.1 1146.9,1104.7 1149.9,1104.0 1152.9,1103.9 1155.9,1102.5 1158.9,1103.2 1162.0,1101.8 1165.1,1101.6 1168.2,1101.7 1171.2,1101.0 1174.3,1099.8 1177.4,1099.3 1180.4,1099.1 1183.4,1099.3 1186.4,1099.6 1189.4,1099.1 1192.3,1097.9 1195.1,1097.6 1197.9,1098.1 1200.6,1096.9 1203.2,1096.9 1206.7,1096.0 1210.0,1096.1 1213.2,1096.6 1216.2,1096.8 1219.2,1096.6 1222.1,1096.1 1225.0,1097.2 1227.9,1096.6 1230.7,1095.9 1233.7,1095.8 1236.7,1097.6 1239.8,1097.8 1243.1,1097.9 1245.8,1097.5 1248.6,1097.2 1251.4,1097.0 1254.3,1097.6 1257.2,1097.8 1260.1,1099.4 1263.1,1099.7 1266.0,1099.8 1269.0,1099.1 1272.0,1099.6 1275.0,1100.1 1278.0,1101.7 1281.0,1100.7 1284.0,1102.2 1287.0,1102.4 1290.0,1102.6 1293.0,1103.7 1295.9,1102.8 1298.8,1103.7 1301.7,1103.4 1304.6,1103.6 1307.5,1103.9 1310.4,1104.8 1313.3,1104.8 1316.3,1105.1 1319.3,1107.3 1322.3,1106.5 1325.3,1108.1 1328.4,1108.3 1331.6,1109.0 1334.8,1109.5 1338.1,1110.8 1340.9,1111.4 1343.8,1111.8 1346.7,1112.3 1349.7,1113.4 1352.7,1114.3 1355.7,1114.9 1358.8,1115.7 1361.9,1116.0 1365.0,1118.2 1368.1,1118.5 1371.3,1118.8 1374.4,1120.0 1377.6,1122.2 1380.7,1122.1 1383.9,1123.4 1387.0,1124.9 1390.1,1126.2 1393.2,1126.2 1396.3,1127.2 1399.4,1128.2 1402.4,1128.3 1405.5,1130.7 1408.5,1130.1 1411.6,1132.6 1414.7,1132.0 1417.7,1132.9 1420.8,1134.9 1423.8,1135.8 1426.9,1135.6 1429.9,1137.0 1433.0,1137.8 1436.1,1139.1 1439.1,1139.1 1442.2,1141.2 1445.2,1142.5 1448.3,1143.1 1451.3,1144.5 1454.4,1145.7 1457.5,1145.9 1460.5,1147.9 1463.6,1149.1 1466.6,1150.0 1469.7,1150.4 1472.7,1152.7 1475.8,1154.6 1478.9,1154.9 1481.9,1157.0 1485.0,1158.9 1488.0,1159.8 1491.1,1160.2 1494.1,1162.7 1497.2,1163.5 1500.3,1166.0 1503.3,1167.1 1506.4,1167.9 1509.4,1170.3 1512.5,1171.2 1515.6,1172.1 1518.8,1174.4 1522.0,1176.0 1525.3,1177.4 1528.5,1178.9 1531.9,1179.9 1535.2,1181.5 1538.5,1182.8 1541.8,1184.1 1545.0,1186.4 1548.2,1186.7 1551.4,1187.6 1554.5,1190.1 1557.4,1191.1 1560.3,1192.5 1563.1,1193.8 1565.8,1194.4 1568.3,1195.4 1570.7,1196.2 1574.8,1199.3 1578.3,1201.1 1581.3,1202.1 1584.1,1202.4 1586.6,1205.0 1589.0,1205.9 1591.5,1206.4 1594.0,1206.6 1596.8,1209.3 1600.0,1210.2 1602.6,1211.3 1605.3,1211.3 1608.0,1213.6 1610.8,1213.5 1613.6,1215.3 1616.5,1215.9 1619.5,1217.4 1622.5,1219.5 1625.5,1220.4 1628.7,1221.7 1631.8,1222.0 1635.1,1223.5 1638.4,1225.2 1641.2,1225.3 1644.0,1227.1 1646.9,1229.3 1649.8,1230.2 1652.8,1231.6 1655.9,1231.9 1658.9,1233.9 1662.0,1235.3 1665.1,1236.5 1668.3,1237.3 1671.4,1238.2 1674.5,1239.2 1677.7,1242.1 1680.8,1243.5 1683.9,1243.5 1686.9,1245.7 1689.9,1246.3 1693.0,1247.9 1696.0,1249.5 1699.0,1249.8 1702.0,1251.6 1705.1,1252.2 1708.1,1253.9 1711.1,1254.3 1714.1,1255.9 1717.2,1257.2 1720.2,1259.5 1723.2,1259.3 1726.2,1261.6 1729.3,1261.6 1732.3,1264.3 1735.3,1264.0 1738.3,1265.0 1741.3,1266.3 1744.4,1268.7 1747.4,1269.3 1750.4,1270.8 1753.5,1271.1 1756.5,1271.5 1759.5,1272.9 1762.5,1274.2 1765.5,1276.1 1768.6,1275.7 1771.6,1276.9 1774.6,1279.0 1777.6,1278.7 1780.7,1281.3 1783.7,1281.1 1786.7,1282.7 1789.7,1283.9 1792.8,1285.4 1795.8,1285.0 1798.8,1287.4 1801.8,1287.3 1804.9,1289.3 1807.9,1289.1 1810.9,1291.5 1813.9,1291.6 1817.0,1292.7 1820.0,1293.4 1823.0,1295.0 1826.0,1296.1 1829.1,1298.3 1832.1,1298.7 1835.1,1299.3 1838.2,1301.5 1841.2,1301.2 1844.2,1302.3 1847.3,1304.8 1850.3,1305.9 1853.3,1306.5 1856.3,1308.1 1859.4,1307.5 1862.4,1310.1 1865.4,1310.8 1868.5,1311.8 1871.5,1313.1 1874.5,1312.8 1877.6,1313.9 1880.6,1314.7 1883.6,1316.3 1886.7,1317.2 1889.7,1318.1 1892.7,1318.6 1895.7,1320.1 1898.8,1321.0 1901.8,1321.6 1904.8,1321.1 1907.8,1322.0 1910.9,1322.8 1913.9,1323.6 1916.9,1324.9 1919.9,1324.9 1923.0,1326.4 1926.0,1326.5 1929.0,1327.3 1932.1,1328.6 1935.2,1329.7 1938.3,1329.0 1941.5,1329.9 1944.6,1331.7 1947.8,1331.0 1951.0,1331.3 1954.2,1332.3 1957.3,1334.0 1960.4,1334.4 1963.4,1335.4 1966.4,1335.2 1969.3,1334.9 1972.1,1335.9 1974.8,1337.1 1977.4,1337.0 1980.4,1337.0 1983.4,1337.8 1986.4,1338.4 1989.4,1338.7 1992.4,1339.3 1995.5,1339.2 1998.5,1339.4 2001.5,1341.2 2004.5,1341.5 2007.5,1341.4 2010.5,1342.0" fill="none" stroke="#2c16c4" stroke-width="4.8" stroke-linejoin="round" stroke-linecap="round"/>
<path d="M237.5,1433.5L240.6,1431.9 243.7,1431.5 246.9,1430.1 250.0,1429.5 253.1,1428.5 256.2,1426.3 259.3,1425.2 262.5,1425.8 265.6,1423.6 268.7,1422.5 272.7,1422.3 275.7,1419.8 278.2,1419.2 280.9,1417.1 284.2,1416.0 286.7,1414.1 289.4,1414.2 292.3,1413.8 295.3,1412.2 298.3,1411.7 301.4,1410.5 304.5,1408.1 307.5,1408.1 310.6,1406.1 313.9,1403.5 317.2,1400.7 320.5,1400.1 323.8,1397.1 326.9,1395.4 329.8,1393.9 332.4,1392.0 335.5,1391.0 337.7,1389.4 339.7,1390.0 342.3,1388.6 346.2,1387.9 348.5,1386.5 351.1,1383.6 353.9,1382.0 356.8,1380.5 360.0,1380.1 363.2,1377.1 366.6,1375.5 370.0,1372.9 373.5,1371.3 377.1,1369.1 380.6,1367.2 383.5,1366.2 386.5,1364.7 389.7,1363.8 393.0,1361.8 396.4,1360.8 399.8,1359.0 403.2,1357.8 406.5,1355.6 409.8,1353.1 412.9,1353.1 415.9,1351.9 418.7,1350.5 421.3,1348.7 423.6,1347.9 428.0,1344.8 431.4,1344.4 434.1,1342.6 436.4,1340.9 438.5,1339.6 440.8,1340.3 443.9,1339.8 446.3,1337.7 449.0,1338.9 452.7,1337.6 454.8,1336.7 456.8,1336.5 458.8,1336.9 461.0,1336.6 463.8,1334.3 467.2,1334.8 471.5,1332.9 477.0,1333.4 479.1,1332.4 481.5,1333.2 484.0,1333.0 486.6,1331.7 489.5,1332.4 492.4,1330.6 495.5,1329.8 498.7,1330.4 501.9,1328.9 505.3,1328.8 508.6,1328.9 512.0,1328.9 515.5,1327.5 518.9,1326.9 522.4,1328.2 525.8,1326.6 529.1,1327.5 532.4,1327.0 535.6,1325.6 538.7,1325.4 541.8,1325.1 544.7,1325.0 547.4,1324.5 550.0,1324.1 553.7,1323.8 557.3,1323.9 560.8,1322.6 564.2,1322.1 567.5,1322.2 570.7,1320.9 573.8,1320.6 576.8,1321.6 579.7,1320.3 582.5,1319.9 585.2,1318.4 587.9,1318.8 590.4,1318.7 592.9,1317.1 595.2,1317.7 597.5,1317.2 601.5,1314.8 604.6,1314.8 607.2,1313.3 609.5,1312.4 611.8,1310.3 614.4,1309.4 617.6,1307.5 621.6,1303.8 623.9,1302.7 626.4,1302.6 629.1,1301.8 631.9,1298.9 634.8,1297.8 637.8,1296.5 640.9,1294.3 644.0,1292.7 647.2,1290.9 650.4,1289.3 653.7,1287.9 657.0,1285.5 660.2,1283.8 663.4,1282.7 666.6,1279.3 669.7,1278.4 672.6,1277.0 675.4,1274.4 678.2,1272.5 681.0,1272.0 683.8,1269.2 686.5,1267.4 689.3,1266.1 692.1,1264.8 695.0,1261.8 697.8,1260.3 700.8,1258.2 703.8,1257.0 706.8,1253.9 710.0,1252.3 713.2,1248.2 716.6,1245.7 720.0,1243.3 722.6,1241.4 725.3,1238.0 728.1,1234.8 730.9,1231.9 733.8,1229.8 736.7,1226.2 739.6,1224.3 742.6,1221.3 745.6,1216.8 748.7,1213.7 751.8,1211.5 754.9,1207.8 758.0,1204.7 761.1,1200.4 764.3,1196.6 767.4,1193.5 770.5,1191.1 773.7,1186.7 776.8,1183.4 779.9,1180.2 782.9,1177.0 786.0,1173.7 789.0,1171.5 792.0,1166.9 795.0,1163.4 798.0,1162.1 801.0,1158.8 804.0,1155.9 807.0,1151.6 810.0,1149.5 813.0,1146.2 816.0,1141.7 819.0,1139.5 822.0,1136.6 824.9,1133.0 827.9,1129.6 830.9,1126.0 833.9,1122.9 836.9,1119.5 839.9,1116.1 842.9,1114.0 845.9,1110.3 848.9,1108.2 851.9,1103.6 854.9,1102.2 857.9,1098.7 860.9,1096.1 863.9,1092.9 866.9,1089.8 870.0,1086.1 873.0,1081.8 876.0,1080.2 879.1,1075.9 882.1,1073.0 885.2,1070.6 888.2,1067.3 891.2,1064.0 894.3,1062.0 897.3,1058.3 900.3,1054.7 903.3,1051.5 906.3,1049.8 909.3,1046.1 912.3,1043.8 915.2,1040.0 918.2,1036.9 921.1,1034.8 924.0,1032.6 926.9,1028.6 930.1,1027.0 933.2,1024.4 936.4,1021.3 939.6,1018.5 942.8,1014.1 946.0,1012.6 949.2,1010.4 952.4,1006.1 955.6,1003.9 958.7,1001.3 961.8,999.3 964.9,996.6 967.9,994.2 970.9,992.4 973.8,988.4 976.7,986.2 979.5,984.0 982.2,981.8 984.9,979.4 987.5,979.1 990.0,976.7 993.8,971.9 997.4,969.6 1000.8,966.2 1004.0,963.4 1007.1,960.8 1010.0,958.7 1012.9,956.1 1015.7,953.1 1018.4,950.4 1021.2,948.2 1024.1,945.4 1027.0,943.9 1030.0,941.7 1033.0,938.6 1036.0,935.6 1039.0,933.5 1041.9,931.5 1044.8,929.7 1047.7,927.8 1050.7,924.8 1053.7,923.4 1056.7,920.9 1059.9,918.3 1063.1,916.1 1066.5,914.1 1070.0,912.4 1072.6,910.3 1075.3,909.2 1078.1,907.1 1080.9,905.0 1083.8,903.9 1086.8,902.6 1089.7,899.7 1092.7,898.8 1095.8,897.2 1098.8,896.5 1101.9,895.1 1105.0,892.5 1108.0,892.1 1111.1,890.5 1114.2,888.2 1117.2,887.4 1120.2,885.6 1123.2,885.9 1126.2,884.7 1129.1,884.4 1132.1,883.5 1135.1,882.6 1138.1,882.2 1141.2,881.4 1144.2,880.0 1147.2,880.6 1150.2,879.1 1153.2,879.1 1156.2,880.1 1159.1,878.4 1162.1,878.2 1165.0,877.9 1167.9,879.2 1170.8,877.4 1173.7,876.8 1176.5,878.0 1179.7,876.0 1182.9,876.9 1186.1,876.0 1189.2,875.7 1192.4,875.3 1195.6,873.9 1198.7,873.7 1201.8,871.5 1204.9,872.4 1207.9,871.3 1210.9,871.2 1213.7,869.6 1216.6,870.5 1219.3,870.5 1221.9,868.6 1224.5,868.9 1228.0,869.4 1231.3,870.1 1234.3,869.2 1237.3,869.5 1240.0,870.1 1242.8,871.5 1245.4,872.4 1248.1,872.4 1250.8,873.0 1253.6,873.7 1256.5,874.3 1259.5,875.1 1262.5,875.1 1265.5,876.7 1268.6,878.5 1271.6,878.2 1274.7,879.7 1277.7,879.3 1280.8,881.2 1283.9,882.1 1286.9,882.7 1290.0,883.0 1293.0,883.5 1296.0,884.3 1298.9,885.2 1301.8,884.1 1304.7,884.3 1307.6,885.9 1310.6,886.7 1313.7,886.4 1316.9,887.0 1320.2,888.4 1323.6,888.4 1326.2,889.5 1328.9,890.4 1331.7,892.4 1334.5,893.1 1337.4,894.3 1340.3,896.6 1343.3,898.6 1346.3,898.8 1349.3,901.2 1352.3,902.1 1355.3,904.5 1358.3,905.4 1361.3,906.2 1364.3,907.5 1367.2,908.4 1370.1,910.6 1373.0,911.6 1375.9,912.4 1378.8,913.9 1381.7,915.0 1384.6,917.0 1387.5,916.9 1390.5,919.7 1393.4,919.8 1396.3,921.2 1399.2,922.0 1402.1,923.9 1405.0,925.1 1407.9,925.8 1410.8,926.9 1413.7,928.6 1416.5,930.1 1419.3,930.4 1422.0,932.3 1424.8,933.9 1427.5,934.2 1430.3,935.0 1433.1,936.3 1435.9,938.5 1438.8,939.8 1441.7,941.8 1444.8,943.1 1447.9,943.4 1451.1,944.9 1454.4,946.7 1457.1,948.0 1460.0,950.5 1462.9,952.3 1465.9,954.0 1469.0,954.3 1472.2,957.2 1475.4,957.8 1478.6,959.7 1481.8,962.0 1485.1,962.5 1488.3,964.3 1491.5,967.6 1494.7,968.3 1497.9,970.2 1501.0,972.4 1504.0,974.4 1506.9,974.8 1509.8,977.2 1512.5,979.1 1515.8,981.3 1519.0,982.9 1522.2,985.8 1525.2,988.7 1528.1,989.8 1531.0,992.2 1533.8,993.5 1536.6,996.0 1539.4,998.9 1542.2,1000.0 1544.9,1003.7 1547.7,1005.8 1550.5,1006.3 1553.3,1010.0 1556.2,1010.9 1559.1,1013.8 1562.1,1015.7 1565.0,1016.8 1568.0,1019.5 1571.0,1021.4 1574.0,1023.7 1576.9,1024.5 1579.9,1027.4 1582.9,1029.7 1585.8,1031.0 1588.7,1032.7 1591.6,1033.7 1594.4,1036.4 1597.2,1038.0 1600.0,1040.6 1603.1,1042.8 1606.1,1044.7 1609.0,1046.1 1611.9,1049.2 1614.7,1051.3 1617.5,1052.6 1620.3,1056.2 1623.1,1057.8 1626.0,1058.9 1629.0,1062.7 1632.0,1063.3 1635.1,1065.9 1638.4,1068.8 1641.2,1070.4 1644.0,1072.1 1646.9,1074.0 1649.8,1075.4 1652.8,1076.8 1655.9,1078.3 1658.9,1079.8 1662.0,1082.9 1665.1,1084.7 1668.3,1086.1 1671.4,1088.3 1674.5,1089.4 1677.7,1091.1 1680.8,1093.3 1683.9,1096.2 1686.9,1096.6 1689.9,1099.6 1693.0,1101.2 1696.0,1104.5 1699.0,1105.9 1702.0,1108.2 1705.1,1110.7 1708.1,1113.4 1711.1,1116.2 1714.1,1117.7 1717.2,1121.1 1720.2,1122.0 1723.2,1124.6 1726.2,1126.5 1729.3,1128.8 1732.3,1132.3 1735.3,1134.3 1738.3,1135.2 1741.3,1137.2 1744.4,1139.6 1747.4,1142.1 1750.4,1144.1 1753.5,1145.8 1756.5,1147.3 1759.5,1148.2 1762.5,1150.5 1765.5,1151.9 1768.6,1154.3 1771.6,1156.1 1774.6,1157.1 1777.6,1158.9 1780.7,1161.7 1783.7,1162.0 1786.7,1165.2 1789.7,1167.1 1792.8,1168.9 1795.8,1169.5 1798.8,1171.5 1801.8,1173.2 1804.9,1175.0 1807.9,1177.3 1810.9,1178.4 1813.9,1179.2 1817.0,1182.0 1820.0,1182.9 1823.0,1184.8 1826.0,1186.6 1829.1,1186.8 1832.1,1190.0 1835.1,1191.5 1838.2,1192.8 1841.2,1194.6 1844.2,1196.1 1847.3,1197.3 1850.3,1199.6 1853.3,1200.3 1856.3,1203.0 1859.4,1204.9 1862.4,1206.2 1865.4,1208.1 1868.5,1210.5 1871.5,1212.0 1874.5,1212.2 1877.6,1215.1 1880.6,1216.3 1883.6,1216.8 1886.7,1219.0 1889.7,1220.4 1892.7,1221.7 1895.7,1224.2 1898.8,1226.6 1901.8,1227.0 1904.8,1229.7 1907.8,1230.9 1910.9,1231.3 1913.9,1234.2 1916.9,1235.2 1919.9,1237.2 1923.0,1238.2 1926.0,1239.5 1929.0,1240.0 1932.1,1242.1 1935.2,1243.5 1938.3,1244.5 1941.5,1244.7 1944.6,1246.3 1947.8,1246.8 1951.0,1247.0 1954.2,1247.7 1957.3,1248.7 1960.4,1249.8 1963.4,1250.5 1966.4,1252.0 1969.3,1253.2 1972.1,1253.6 1974.8,1254.1 1977.4,1255.2 1980.4,1255.2 1983.4,1256.1 1986.4,1257.4 1989.4,1257.3 1992.4,1257.5 1995.5,1259.6 1998.5,1259.9 2001.5,1259.9 2004.5,1260.5 2007.5,1261.5 2010.5,1262.1" fill="none" stroke="#9418d8" stroke-width="4.6" stroke-linejoin="round" stroke-linecap="round"/>
<path d="M237.5,1412.0L239.7,1411.8 241.8,1410.6 244.3,1406.6 246.7,1404.9 249.2,1404.9 251.6,1402.9 254.1,1400.9 256.5,1398.2 259.0,1397.2 261.6,1394.7 264.1,1392.2 266.7,1388.8 269.2,1387.0 271.8,1384.5 274.3,1382.8 276.9,1381.1 279.4,1378.5 282.0,1375.1 284.5,1372.2 286.9,1369.2 289.4,1366.0 291.9,1363.4 294.4,1361.8 296.8,1358.8 299.3,1356.3 301.8,1355.4 304.2,1352.4 306.7,1350.3 309.2,1347.4 311.7,1344.7 314.1,1343.3 316.6,1340.7 319.1,1339.2 321.5,1337.9 324.0,1334.6 326.4,1331.0 328.9,1330.3 331.3,1327.6 333.8,1325.0 336.3,1322.9 338.7,1320.1 341.2,1317.7 343.6,1314.2 346.1,1313.2 348.5,1310.7 351.0,1306.3 353.3,1305.6 355.6,1303.4 357.9,1300.7 360.3,1298.7 362.6,1296.5 364.9,1295.4 367.4,1291.7 369.9,1289.8 372.4,1286.0 374.8,1284.6 377.3,1281.9 379.8,1278.2 382.1,1276.5 384.4,1275.3 386.7,1272.8 389.0,1270.3 391.3,1268.9 393.7,1268.3 396.0,1268.5 398.4,1264.6 400.7,1263.7 403.1,1259.6 405.5,1258.5 407.8,1254.5 410.2,1253.4 412.7,1250.9 415.3,1248.6 417.8,1246.8 420.3,1245.3 422.9,1243.3 425.4,1240.7 427.9,1239.3 430.5,1238.9 433.0,1238.7 435.5,1236.8 438.1,1234.3 440.6,1234.9 443.1,1233.6 445.7,1233.0 448.2,1230.3 450.7,1230.6 453.3,1228.0 455.8,1228.4 458.3,1225.8 460.9,1224.0 463.4,1223.9 465.9,1220.4 468.5,1219.7 471.0,1218.8 473.5,1216.6 476.1,1215.8 478.6,1216.6 481.1,1214.8 483.6,1214.7 486.1,1212.3 488.7,1212.3 491.2,1211.1 493.7,1212.3 496.3,1210.9 498.8,1213.0 501.3,1210.8 503.9,1212.5 506.4,1210.8 508.9,1211.3 511.4,1212.7 514.0,1211.1 516.5,1211.1 519.0,1210.8 521.6,1208.6 524.1,1206.3 526.6,1207.0 529.2,1203.5 531.7,1201.7 534.2,1201.7 536.8,1201.6 539.3,1201.1 541.9,1198.8 544.4,1198.6 546.9,1197.1 549.5,1197.3 552.0,1197.3 554.5,1196.8 557.0,1196.6 559.6,1195.8 562.1,1195.5 564.6,1194.6 567.2,1193.6 569.7,1192.5 572.2,1193.0 574.7,1191.2 577.3,1189.6 579.8,1189.5 582.3,1189.5 584.9,1186.7 587.4,1186.8 589.9,1184.7 592.4,1183.4 595.0,1180.9 597.5,1181.2 600.0,1177.9 602.4,1176.7 604.7,1174.3 607.1,1171.3 609.5,1170.6 611.8,1167.6 614.2,1165.3 616.6,1163.0 619.0,1161.0 621.5,1158.5 623.9,1157.5 626.3,1154.9 628.7,1153.8 631.2,1151.3 633.6,1149.2 636.0,1145.1 638.6,1143.6 641.3,1141.2 643.9,1140.0 646.5,1138.1 649.1,1136.6 651.8,1134.4 654.4,1131.3 656.8,1129.2 659.3,1126.9 661.7,1123.0 664.1,1120.6 666.6,1118.9 669.0,1115.6 671.4,1114.5 673.9,1110.8 676.3,1107.9 678.8,1105.3 681.2,1102.7 683.7,1099.8 686.2,1097.7 688.7,1094.8 691.1,1091.6 693.6,1089.6 696.1,1085.8 698.5,1084.7 701.0,1082.1 703.4,1078.7 705.9,1075.2 708.3,1072.6 710.8,1070.0 713.7,1061.2 716.6,1054.6 718.9,1053.2 721.2,1050.8 723.5,1049.0 725.8,1049.0 728.1,1046.4 730.4,1039.1 732.7,1032.4 735.0,1024.0 737.5,1019.6 740.0,1017.6 742.5,1012.6 744.9,1008.1 747.4,1006.1 749.9,1001.1 752.4,997.9 754.7,996.0 757.0,992.4 759.4,987.6 761.7,985.5 764.0,982.2 766.4,976.1 768.9,969.1 771.3,963.7 773.7,957.1 776.2,952.3 778.6,947.2 781.1,945.3 783.7,939.9 786.2,938.3 788.8,933.7 791.1,930.5 793.4,926.0 795.8,922.1 798.1,918.8 800.4,913.8 803.3,901.5 806.2,889.9 808.8,885.8 811.3,883.6 813.9,879.1 816.4,875.9 819.3,869.9 822.2,863.0 825.1,859.2 827.4,856.6 829.7,853.5 832.1,850.1 834.4,846.9 836.7,844.2 839.1,837.3 841.6,828.2 844.0,821.1 846.5,817.3 849.1,814.8 851.7,810.9 854.2,807.5 856.6,800.5 859.1,792.5 861.5,785.6 863.9,781.8 866.3,776.9 868.7,772.9 871.2,768.3 873.8,763.6 876.4,757.5 878.9,752.8 881.5,743.6 884.2,736.9 886.9,731.0 889.5,721.6 891.9,719.8 894.3,716.5 896.7,714.1 899.2,713.6 901.6,711.4 904.0,708.2 906.4,704.5 909.2,692.9 912.1,680.8 914.9,669.8 917.4,666.7 919.8,662.9 922.3,659.9 924.8,655.7 927.2,653.6 929.7,651.4 932.3,648.0 934.8,643.4 937.4,641.5 939.9,639.0 942.5,634.9 945.1,627.4 947.8,617.4 950.4,609.0 953.0,599.3 955.5,596.8 958.0,592.4 960.5,588.0 962.9,583.1 965.4,579.9 967.9,575.1 970.3,573.7 972.7,571.7 975.1,567.2 977.6,565.3 980.0,562.5 982.4,559.6 984.8,557.6 987.3,553.1 989.9,547.4 992.4,541.8 995.0,537.9 997.5,531.3 1000.0,528.1 1002.5,523.6 1005.0,519.6 1007.4,515.5 1009.9,509.7 1012.3,506.3 1014.7,501.4 1017.2,497.7 1019.6,494.1 1022.0,489.0 1024.5,483.2 1026.9,479.9 1029.4,477.4 1031.8,474.7 1034.3,471.0 1036.8,468.2 1039.2,463.2 1041.7,462.3 1044.1,458.7 1046.6,455.2 1049.1,452.8 1051.5,449.7 1054.0,444.6 1056.5,445.5 1058.9,444.5 1061.3,442.3 1063.8,442.7 1066.2,441.5 1068.7,439.7 1071.1,440.3 1073.6,437.8 1076.3,432.0 1079.1,424.5 1081.9,420.9 1084.7,418.4 1087.5,414.9 1089.8,413.4 1092.1,414.3 1094.5,411.2 1096.8,410.1 1099.1,410.3 1101.4,410.2 1104.2,401.9 1107.0,394.2 1109.8,385.7 1112.3,385.3 1114.8,383.7 1117.3,382.7 1119.8,382.4 1122.3,380.5 1124.8,379.2 1127.2,379.5 1129.6,376.7 1132.1,376.7 1134.8,376.2 1137.5,374.7 1140.3,374.7 1143.0,374.4 1145.7,374.0 1148.0,360.9 1150.3,349.6 1152.7,348.6 1155.1,347.3 1157.6,345.3 1160.0,343.1 1162.4,342.9 1164.7,348.5 1167.0,351.6 1169.2,356.5 1171.5,360.7 1174.5,353.3 1177.5,346.7 1180.0,344.8 1182.5,345.2 1185.0,344.3 1187.6,343.9 1190.1,344.3 1192.6,341.8 1195.1,342.1 1197.7,339.3 1200.2,338.7 1202.9,341.1 1205.6,342.9 1208.4,344.4 1211.1,347.6 1213.8,347.9 1216.2,347.7 1218.7,345.6 1221.1,344.4 1223.6,343.7 1226.0,342.0 1228.4,339.8 1230.8,337.2 1233.2,335.2 1235.6,333.9 1238.0,331.6 1240.3,330.9 1242.6,331.8 1244.9,335.1 1247.2,342.1 1249.4,346.3 1251.7,351.6 1254.0,348.1 1256.2,344.1 1258.5,341.6 1260.9,341.2 1263.2,342.2 1265.6,342.2 1267.9,344.0 1270.3,344.4 1272.8,347.1 1275.4,351.3 1278.0,355.8 1280.5,358.2 1283.0,352.1 1285.6,347.0 1288.2,341.4 1290.7,337.0 1293.5,345.3 1296.4,354.3 1299.2,364.4 1301.7,362.2 1304.2,362.7 1306.8,361.5 1309.3,360.1 1312.0,363.8 1314.7,365.4 1317.5,369.4 1320.2,372.2 1322.9,373.9 1325.3,373.7 1327.6,373.6 1330.0,372.4 1332.3,371.8 1334.7,371.4 1337.1,373.9 1339.5,375.9 1341.8,378.8 1344.2,379.5 1346.6,382.7 1349.4,383.9 1352.3,384.3 1355.1,385.5 1357.6,389.7 1360.2,396.2 1362.8,399.4 1365.3,404.3 1368.0,406.4 1370.7,405.7 1373.4,408.6 1376.1,407.6 1378.8,408.4 1381.1,408.0 1383.3,406.9 1385.6,407.1 1387.8,407.9 1390.0,408.4 1392.6,408.3 1395.1,409.2 1397.7,409.2 1399.7,421.3 1401.6,430.8 1403.9,433.3 1406.2,436.8 1408.6,438.4 1410.9,441.5 1413.2,445.6 1415.8,450.7 1418.4,457.9 1421.0,465.2 1423.6,462.7 1426.1,460.6 1428.7,457.6 1431.0,460.9 1433.3,463.8 1435.7,466.9 1438.0,470.9 1440.3,473.3 1442.9,476.0 1445.5,479.5 1448.1,480.3 1451.0,473.8 1453.9,468.7 1456.3,475.0 1458.8,483.1 1461.2,488.8 1463.6,497.0 1466.0,500.2 1468.4,501.4 1470.9,504.8 1473.3,506.9 1475.9,510.2 1478.4,515.5 1481.0,517.9 1483.4,516.7 1485.8,515.6 1488.3,513.4 1490.7,513.2 1493.0,515.0 1495.3,517.3 1497.7,519.5 1500.0,522.8 1502.3,525.2 1504.9,530.2 1507.4,534.6 1510.0,539.8 1512.5,546.9 1515.0,552.7 1517.5,559.7 1520.0,568.7 1522.7,568.6 1525.4,572.6 1528.2,574.0 1530.9,576.6 1533.6,576.6 1536.4,582.8 1539.2,589.6 1542.0,593.4 1544.3,594.8 1546.5,596.5 1548.8,597.2 1551.3,602.2 1553.9,608.6 1556.5,612.2 1559.0,619.4 1561.8,619.2 1564.7,618.4 1567.5,621.0 1570.3,627.3 1573.1,635.8 1575.9,643.8 1578.2,641.1 1580.4,640.3 1582.7,637.5 1585.5,646.4 1588.4,656.6 1591.2,664.9 1593.6,668.9 1596.0,674.0 1598.3,679.2 1600.7,682.2 1603.1,687.8 1605.5,686.2 1607.8,685.5 1610.2,684.8 1612.5,684.4 1614.9,683.3 1617.4,687.6 1620.0,691.9 1622.5,696.4 1625.0,700.9 1627.5,707.2 1629.9,712.9 1632.3,718.6 1634.8,725.8 1637.2,727.1 1639.6,730.1 1642.1,734.9 1644.5,737.5 1646.9,739.7 1649.3,743.2 1651.7,746.1 1654.2,749.5 1656.6,752.6 1659.0,755.7 1661.8,764.5 1664.5,772.4 1667.2,779.7 1670.0,787.4 1672.5,787.4 1675.1,789.0 1677.7,789.9 1680.2,788.5 1682.7,794.8 1685.2,799.8 1687.8,804.8 1690.3,808.4 1693.0,812.3 1695.7,814.2 1698.5,816.9 1701.2,820.6 1703.9,823.4 1706.3,825.3 1708.7,827.5 1711.1,829.4 1713.6,830.8 1716.0,831.7 1718.4,835.3 1720.8,837.4 1723.2,841.3 1725.7,844.6 1728.1,847.1 1730.5,851.4 1732.9,855.0 1735.4,860.2 1737.8,863.8 1740.6,866.3 1743.5,871.6 1746.3,875.0 1749.0,876.2 1751.7,876.5 1754.4,877.5 1757.1,878.6 1759.8,881.5 1762.2,884.2 1764.6,886.2 1766.9,890.8 1769.3,893.0 1771.7,895.7 1774.4,900.1 1777.1,905.3 1779.9,909.1 1782.6,914.0 1785.3,917.1 1787.8,921.3 1790.2,923.0 1792.7,927.3 1795.1,928.4 1797.5,931.5 1800.0,934.8 1802.5,936.2 1805.0,938.3 1807.5,941.1 1810.0,941.1 1812.5,944.3 1815.0,945.9 1817.5,947.9 1820.0,948.9 1822.5,950.7 1825.0,952.2 1827.4,955.9 1829.8,958.8 1832.3,962.0 1834.7,966.1 1837.1,968.8 1839.5,972.8 1841.9,976.4 1844.3,979.2 1846.8,982.2 1849.2,986.7 1851.6,990.7 1854.0,991.3 1856.5,994.4 1858.9,996.7 1861.3,999.5 1863.7,1001.1 1866.2,1002.4 1868.6,1004.4 1871.0,1008.1 1873.4,1009.0 1875.9,1010.4 1878.3,1014.7 1880.9,1016.0 1883.6,1019.1 1886.2,1022.0 1888.9,1024.8 1891.5,1028.8 1894.2,1030.7 1896.8,1033.9 1899.4,1036.2 1901.9,1039.6 1904.5,1040.1 1907.0,1043.9 1909.6,1045.2 1912.1,1047.7 1914.7,1051.2 1917.2,1053.1 1919.8,1054.7 1922.3,1058.4 1924.9,1061.6 1927.4,1063.4 1930.0,1065.5 1932.5,1068.6 1935.1,1071.3 1937.6,1071.9 1940.2,1074.7 1942.7,1078.7 1945.3,1081.0 1947.8,1080.9 1950.4,1083.8 1952.9,1085.9 1955.5,1086.9 1958.0,1088.8 1960.6,1090.0 1963.1,1091.0 1965.7,1092.6 1968.2,1093.9 1970.8,1097.0 1973.3,1097.4 1975.9,1100.2 1978.4,1101.3 1981.0,1103.1 1983.5,1106.0 1986.1,1106.3 1988.6,1108.1 1991.2,1109.6 1993.7,1110.8 1996.1,1112.3 1998.5,1114.6 2000.9,1116.8 2003.3,1116.5 2005.7,1120.1 2008.1,1120.9 2010.5,1122.0" fill="none" stroke="#f41e08" stroke-width="4.2" stroke-linejoin="round" stroke-linecap="round"/>
<path d="M237.5,1406.0L239.5,1404.0 242.2,1403.4 244.8,1400.7 247.5,1396.9 249.8,1396.1 252.1,1394.6 254.4,1393.7 256.7,1392.7 259.0,1389.4 261.3,1387.5 263.6,1387.8 265.9,1384.9 268.2,1384.0 270.5,1380.2 272.8,1379.3 275.1,1377.9 277.4,1374.5 279.7,1374.3 282.0,1372.0 284.3,1367.7 286.6,1365.6 288.9,1364.8 291.2,1363.7 293.5,1360.2 295.8,1356.8 298.1,1354.3 300.4,1350.3 302.7,1347.8 305.0,1345.3 307.6,1340.6 310.2,1335.1 312.8,1330.2 315.4,1325.3 318.1,1327.1 320.8,1327.8 323.5,1328.3 326.1,1324.4 328.6,1317.6 331.2,1311.9 333.8,1304.7 336.7,1305.5 339.6,1303.9 342.5,1298.5 345.3,1295.6 347.6,1296.2 349.9,1295.7 352.2,1295.9 354.5,1294.2 356.8,1294.9 359.7,1293.2 362.6,1291.0 364.9,1286.0 367.2,1281.0 369.5,1275.2 371.8,1268.5 374.1,1268.7 376.4,1267.3 378.7,1267.8 381.0,1261.8 383.3,1253.3 385.5,1251.5 387.8,1251.3 390.0,1250.5 392.5,1249.8 395.1,1248.3 397.6,1247.8 400.1,1247.3 402.6,1242.5 405.2,1236.3 407.7,1234.1 410.2,1232.6 412.8,1229.6 415.3,1227.8 418.0,1227.9 420.7,1226.9 423.4,1224.2 425.8,1225.1 428.1,1225.8 430.5,1228.0 433.6,1219.7 436.6,1209.5 439.6,1207.4 442.6,1206.7 444.6,1209.2 446.7,1213.9 449.2,1208.0 451.7,1199.9 454.8,1203.1 457.8,1206.2 460.1,1205.1 462.4,1204.4 464.6,1200.2 466.9,1200.4 469.9,1203.6 473.0,1206.8 475.6,1200.9 478.1,1195.5 480.6,1199.8 483.1,1205.0 485.1,1201.1 487.2,1196.5 489.5,1199.2 491.8,1198.9 494.0,1198.4 496.3,1199.7 498.8,1191.6 501.3,1183.1 503.9,1182.1 506.4,1181.6 508.9,1180.8 511.5,1179.8 513.8,1180.4 516.0,1180.3 518.3,1181.8 520.6,1182.7 523.6,1187.8 526.6,1192.5 529.3,1187.0 532.0,1181.6 534.7,1176.2 537.1,1175.8 539.4,1178.4 541.8,1179.0 544.5,1173.3 547.2,1169.1 549.9,1165.0 552.6,1170.7 555.3,1173.0 558.0,1176.4 560.3,1175.4 562.5,1172.4 564.8,1169.5 567.1,1167.4 569.6,1167.1 572.2,1164.9 574.7,1164.0 577.2,1163.9 579.8,1165.2 582.3,1166.9 584.9,1169.3 587.4,1170.2 589.8,1165.0 592.1,1159.1 594.5,1152.4 597.2,1150.6 600.0,1151.1 602.6,1151.5 605.2,1152.2 607.8,1154.6 610.4,1156.6 613.0,1156.0 615.3,1148.5 617.6,1141.3 619.9,1135.3 622.2,1126.4 625.1,1128.4 628.0,1128.9 630.3,1131.1 632.6,1132.9 634.9,1137.4 637.2,1139.6 640.0,1126.2 642.9,1112.8 645.6,1113.1 648.3,1111.7 651.0,1111.4 653.7,1106.1 656.3,1102.3 659.0,1096.3 661.3,1097.6 663.7,1100.1 666.0,1100.7 668.3,1092.3 670.6,1086.8 673.5,1085.4 676.3,1087.0 679.2,1079.6 682.1,1071.9 685.0,1069.7 687.8,1067.3 691.3,1054.6 694.0,1050.5 696.6,1050.6 699.3,1049.1 701.8,1047.8 704.4,1046.6 706.9,1048.1 709.5,1048.2 712.0,1047.2 715.4,1014.5 718.1,1015.3 720.8,1016.4 723.5,1017.2 726.2,1012.7 728.8,1006.3 731.5,999.9 733.6,995.0 735.8,991.8 737.9,986.2 740.5,978.3 743.0,969.5 745.5,962.6 748.1,954.3 751.0,952.5 753.9,953.5 756.8,954.4 759.3,949.9 761.9,943.1 764.5,935.8 767.0,929.3 769.3,925.5 771.6,921.0 774.0,916.3 776.3,909.8 778.6,906.3 781.5,897.1 784.4,887.9 787.3,880.5 790.2,878.0 793.1,878.8 796.0,876.6 799.0,868.8 801.9,862.8 804.8,830.5 807.2,834.3 809.6,836.3 812.0,839.4 814.9,824.4 817.8,810.5 820.0,811.8 822.2,814.8 824.4,805.7 826.6,798.2 828.8,789.7 831.0,779.4 833.4,780.9 835.8,780.3 838.2,780.6 840.4,771.2 842.6,763.9 845.5,761.2 848.4,758.9 851.1,749.2 853.8,741.5 856.6,733.5 859.3,724.1 862.0,716.2 864.5,711.7 866.9,707.8 869.4,704.8 871.9,702.9 874.3,698.5 876.8,695.9 879.3,685.9 881.7,676.6 884.2,669.1 886.7,660.4 889.1,649.4 891.6,642.3 894.2,638.2 896.9,635.6 899.6,635.0 902.2,630.1 904.3,619.0 906.4,609.3 909.0,607.2 911.7,605.9 914.4,605.5 917.0,605.1 919.5,601.8 922.1,595.4 924.6,592.9 927.2,586.8 929.7,583.7 932.2,576.5 934.7,567.9 937.2,560.7 939.6,554.2 942.1,546.2 944.6,540.6 947.2,534.2 949.9,529.4 952.6,527.1 955.2,520.6 958.0,505.1 960.8,488.5 963.6,471.9 965.7,479.0 967.9,489.0 970.0,496.9 972.1,489.2 974.3,479.2 976.4,471.7 979.2,462.8 982.0,453.8 984.8,442.8 987.6,439.7 990.5,436.1 993.3,431.5 995.8,427.2 998.4,421.5 1000.7,423.2 1003.0,424.6 1005.3,426.9 1008.1,412.8 1010.9,395.4 1013.0,389.6 1015.0,383.4 1017.8,377.6 1020.6,369.7 1023.4,363.0 1025.7,370.0 1028.1,376.9 1030.4,385.2 1032.5,367.2 1034.6,347.6 1037.1,349.3 1039.6,351.6 1042.1,353.3 1044.6,355.1 1047.1,355.8 1049.9,345.5 1052.7,336.3 1055.5,326.1 1057.8,327.3 1060.1,326.1 1062.4,326.1 1064.5,317.2 1066.6,305.9 1068.9,309.0 1071.3,310.0 1073.6,312.8 1075.7,298.5 1077.7,286.9 1080.0,292.8 1082.4,296.0 1084.7,303.4 1087.5,292.3 1090.3,284.8 1093.1,281.6 1095.8,277.5 1098.6,272.4 1100.9,272.3 1103.3,273.9 1105.6,275.4 1107.7,265.4 1109.8,258.6 1112.5,265.7 1115.3,276.8 1118.1,257.8 1120.9,241.8 1124.5,256.0 1126.8,242.9 1129.1,230.4 1131.6,232.7 1134.1,235.0 1136.6,237.4 1139.1,234.0 1141.7,232.7 1144.2,229.9 1147.2,238.2 1150.3,244.8 1152.8,239.2 1155.3,234.2 1157.8,232.0 1160.8,232.4 1163.9,232.4 1167.0,224.9 1170.0,218.1 1173.0,198.9 1176.0,180.6 1178.5,185.5 1181.1,190.3 1183.6,194.8 1186.1,195.4 1188.6,193.8 1191.1,193.2 1193.4,193.0 1195.7,194.9 1197.9,195.4 1200.2,196.5 1202.7,191.8 1205.3,188.3 1207.8,182.1 1210.8,187.4 1213.8,193.3 1216.1,180.2 1218.4,167.5 1220.9,170.9 1223.5,172.8 1226.0,175.2 1228.2,173.1 1230.5,172.3 1232.8,170.9 1235.0,168.1 1237.3,161.9 1239.6,155.0 1242.6,158.2 1245.6,162.5 1247.9,159.8 1250.2,157.7 1252.7,184.1 1255.1,208.9 1257.4,203.6 1259.6,195.9 1261.9,189.7 1264.7,184.1 1267.5,178.2 1270.3,169.6 1273.1,175.2 1276.0,179.4 1278.8,181.9 1281.1,182.3 1283.3,182.2 1285.6,180.4 1287.9,184.6 1290.1,188.0 1292.4,191.0 1295.0,181.6 1297.5,171.5 1300.0,172.1 1302.5,171.5 1305.1,170.9 1307.6,171.6 1310.1,172.7 1312.7,174.9 1315.2,176.7 1317.8,176.1 1320.3,194.7 1322.9,211.8 1325.2,211.4 1327.4,212.4 1329.7,212.0 1332.2,219.4 1334.7,223.5 1338.1,180.3 1340.7,204.4 1343.2,228.4 1345.8,219.0 1348.3,212.3 1350.8,220.0 1353.4,225.5 1355.7,223.8 1357.9,220.6 1360.2,216.7 1362.8,234.6 1365.3,251.8 1367.8,236.1 1370.3,219.2 1372.8,225.7 1375.4,234.9 1378.0,242.0 1380.5,249.3 1383.0,242.9 1385.6,235.6 1388.2,230.9 1390.7,224.2 1393.2,228.5 1395.8,236.3 1398.7,262.6 1401.6,288.7 1404.5,279.5 1407.4,269.6 1410.3,274.8 1413.2,276.8 1416.1,266.6 1419.0,256.6 1422.0,259.4 1424.9,264.8 1427.8,282.2 1430.7,300.3 1433.3,302.5 1435.8,306.6 1438.4,311.1 1440.8,307.5 1443.2,305.4 1445.7,301.7 1448.1,299.9 1450.5,308.9 1452.9,317.7 1455.4,326.8 1457.8,334.4 1460.2,329.4 1462.7,325.5 1465.1,320.4 1467.5,315.1 1470.4,324.3 1473.3,333.7 1476.2,330.3 1479.1,329.2 1481.7,342.3 1484.2,358.8 1486.8,373.1 1489.4,372.3 1492.0,369.8 1494.6,368.4 1497.5,383.7 1500.4,402.0 1503.3,396.4 1506.2,389.9 1508.6,396.2 1511.1,401.6 1513.5,407.9 1515.9,412.3 1518.8,404.8 1521.7,396.1 1525.1,422.9 1527.4,431.0 1529.6,439.9 1531.9,447.6 1534.1,441.4 1536.4,436.2 1538.6,429.9 1540.9,437.3 1543.1,444.7 1545.4,453.3 1547.7,467.2 1549.9,480.9 1552.2,493.8 1554.8,485.3 1557.3,478.9 1559.6,482.0 1561.8,487.5 1564.1,491.0 1566.7,510.5 1569.2,529.8 1571.7,507.6 1574.2,486.9 1576.5,496.6 1578.7,504.8 1581.0,512.8 1583.4,514.3 1585.8,517.7 1588.1,520.1 1590.5,522.5 1592.9,526.0 1595.2,529.3 1597.4,533.6 1599.7,538.0 1602.2,544.8 1604.8,551.4 1607.3,559.2 1609.8,566.2 1612.3,564.5 1614.9,562.7 1617.5,560.5 1620.0,559.3 1622.3,575.1 1624.5,591.7 1626.8,607.1 1629.6,611.3 1632.5,615.0 1635.3,619.1 1637.5,612.4 1639.8,605.5 1642.0,599.1 1644.7,604.0 1647.4,608.1 1650.2,611.0 1652.9,613.7 1655.6,619.2 1658.4,633.0 1661.3,647.6 1664.1,661.2 1666.9,661.9 1669.7,661.9 1672.5,660.5 1674.7,660.1 1676.8,660.7 1679.1,663.0 1681.3,668.3 1683.6,673.4 1686.1,669.3 1688.6,665.1 1691.2,685.4 1693.7,704.7 1696.2,705.3 1698.8,707.0 1701.4,710.5 1703.9,710.6 1706.5,706.7 1709.0,705.3 1711.5,701.1 1714.1,697.3 1716.3,709.5 1718.6,721.9 1720.8,732.3 1723.1,734.2 1725.3,734.9 1727.6,735.7 1731.0,761.4 1733.5,748.7 1736.1,734.2 1738.4,746.4 1740.6,756.6 1742.9,769.6 1745.3,774.8 1747.6,778.5 1750.0,783.3 1752.3,790.3 1754.7,794.7 1757.4,798.2 1760.1,799.1 1762.9,804.4 1765.6,806.8 1768.3,809.0 1771.1,797.5 1774.0,786.4 1776.8,774.6 1779.3,809.5 1781.9,847.1 1784.1,836.9 1786.4,830.0 1788.6,819.6 1791.1,821.2 1793.7,821.1 1796.2,821.3 1798.8,820.8 1801.1,828.8 1803.3,835.1 1805.6,842.5 1808.4,847.4 1811.3,849.8 1814.1,854.3 1816.7,863.1 1819.2,874.5 1821.7,857.5 1824.2,839.5 1826.6,854.0 1829.0,869.7 1831.0,886.6 1833.0,902.3 1835.2,899.8 1837.4,896.8 1839.6,895.6 1842.3,902.3 1845.0,906.6 1847.2,903.0 1849.4,901.6 1851.6,898.8 1854.3,909.4 1856.9,918.7 1859.6,928.2 1861.9,930.8 1864.3,930.3 1866.7,933.2 1869.0,932.9 1871.2,927.5 1873.4,921.5 1875.6,915.0 1878.3,922.4 1881.0,930.6 1883.7,933.5 1886.3,933.9 1888.9,947.5 1891.6,959.8 1894.3,965.5 1896.9,969.0 1899.6,974.1 1902.3,977.2 1904.9,979.6 1907.6,979.3 1909.9,983.3 1912.2,985.4 1914.6,986.0 1916.9,988.2 1919.6,988.1 1922.2,988.3 1924.8,1004.9 1927.5,1024.1 1930.2,997.2 1932.9,969.0 1935.1,980.3 1937.3,987.2 1939.5,996.9 1941.8,1001.6 1944.2,1003.3 1946.5,1007.5 1948.8,1010.1 1951.5,1012.8 1954.1,1015.6 1956.8,1017.6 1958.8,1025.9 1960.8,1036.7 1962.8,1022.7 1964.8,1004.6 1967.0,1015.9 1969.3,1026.1 1971.5,1036.7 1974.2,1026.8 1976.8,1018.6 1979.5,1009.1 1982.2,1035.6 1984.8,1062.6 1987.4,1053.5 1990.1,1044.1 1992.8,1045.7 1995.4,1047.6 1998.1,1047.8 2000.8,1047.7 2003.2,1050.2 2005.7,1055.3 2008.1,1057.3 2010.5,1060.0" fill="none" stroke="#111" stroke-width="5" stroke-linejoin="round" stroke-linecap="round"/>
<path d="M237.5,30.5V1462" stroke="#1a1a1a" stroke-width="5" fill="none"/>
<path d="M224,32.5H2014" stroke="#1a1a1a" stroke-width="5" fill="none"/>
<path d="M2012,30.5V1462" stroke="#222" stroke-width="5" fill="none"/>
<path d="M236,1462H2014" stroke="#1a1a1a" stroke-width="3" fill="none"/>
<path d="M211,1461.7H238" stroke="#1a1a1a" stroke-width="4"/>
<text x="214" y="1478.2" font-size="53" text-anchor="end" fill="#1e1e1e" stroke="#1e1e1e" stroke-width="0.8">0</text>
<path d="M224,1386.4H238" stroke="#1a1a1a" stroke-width="4"/>
<path d="M211,1311.2H238" stroke="#1a1a1a" stroke-width="4"/>
<text x="214" y="1327.7" font-size="53" text-anchor="end" fill="#1e1e1e" stroke="#1e1e1e" stroke-width="0.8">20</text>
<path d="M224,1235.9H238" stroke="#1a1a1a" stroke-width="4"/>
<path d="M211,1160.7H238" stroke="#1a1a1a" stroke-width="4"/>
<text x="214" y="1177.2" font-size="53" text-anchor="end" fill="#1e1e1e" stroke="#1e1e1e" stroke-width="0.8">40</text>
<path d="M224,1085.4H238" stroke="#1a1a1a" stroke-width="4"/>
<path d="M211,1010.1H238" stroke="#1a1a1a" stroke-width="4"/>
<text x="214" y="1026.6" font-size="53" text-anchor="end" fill="#1e1e1e" stroke="#1e1e1e" stroke-width="0.8">60</text>
<path d="M224,934.9H238" stroke="#1a1a1a" stroke-width="4"/>
<path d="M211,859.6H238" stroke="#1a1a1a" stroke-width="4"/>
<text x="214" y="876.1" font-size="53" text-anchor="end" fill="#1e1e1e" stroke="#1e1e1e" stroke-width="0.8">80</text>
<path d="M224,784.4H238" stroke="#1a1a1a" stroke-width="4"/>
<path d="M211,709.1H238" stroke="#1a1a1a" stroke-width="4"/>
<text x="214" y="725.6" font-size="53" text-anchor="end" fill="#1e1e1e" stroke="#1e1e1e" stroke-width="0.8">100</text>
<path d="M224,633.8H238" stroke="#1a1a1a" stroke-width="4"/>
<path d="M211,558.6H238" stroke="#1a1a1a" stroke-width="4"/>
<text x="214" y="575.1" font-size="53" text-anchor="end" fill="#1e1e1e" stroke="#1e1e1e" stroke-width="0.8">120</text>
<path d="M224,483.3H238" stroke="#1a1a1a" stroke-width="4"/>
<path d="M211,408.1H238" stroke="#1a1a1a" stroke-width="4"/>
<text x="214" y="424.6" font-size="53" text-anchor="end" fill="#1e1e1e" stroke="#1e1e1e" stroke-width="0.8">140</text>
<path d="M224,332.8H238" stroke="#1a1a1a" stroke-width="4"/>
<path d="M211,257.5H238" stroke="#1a1a1a" stroke-width="4"/>
<text x="214" y="274.0" font-size="53" text-anchor="end" fill="#1e1e1e" stroke="#1e1e1e" stroke-width="0.8">160</text>
<path d="M224,182.3H238" stroke="#1a1a1a" stroke-width="4"/>
<path d="M211,107.0H238" stroke="#1a1a1a" stroke-width="4"/>
<text x="214" y="123.5" font-size="53" text-anchor="end" fill="#1e1e1e" stroke="#1e1e1e" stroke-width="0.8">180</text>
<path d="M224,31.8H238" stroke="#1a1a1a" stroke-width="4"/>
<path d="M315.8,1462V1476" stroke="#1a1a1a" stroke-width="4"/>
<path d="M446.3,1462V1488" stroke="#1a1a1a" stroke-width="4"/>
<text x="446.3" y="1533.7" font-size="53" text-anchor="middle" fill="#1e1e1e" stroke="#1e1e1e" stroke-width="0.8">400</text>
<path d="M576.7,1462V1476" stroke="#1a1a1a" stroke-width="4"/>
<path d="M707.2,1462V1488" stroke="#1a1a1a" stroke-width="4"/>
<text x="707.2" y="1533.7" font-size="53" text-anchor="middle" fill="#1e1e1e" stroke="#1e1e1e" stroke-width="0.8">450</text>
<path d="M837.7,1462V1476" stroke="#1a1a1a" stroke-width="4"/>
<path d="M968.2,1462V1488" stroke="#1a1a1a" stroke-width="4"/>
<text x="968.2" y="1533.7" font-size="53" text-anchor="middle" fill="#1e1e1e" stroke="#1e1e1e" stroke-width="0.8">500</text>
<path d="M1098.7,1462V1476" stroke="#1a1a1a" stroke-width="4"/>
<path d="M1229.1,1462V1488" stroke="#1a1a1a" stroke-width="4"/>
<text x="1229.1" y="1533.7" font-size="53" text-anchor="middle" fill="#1e1e1e" stroke="#1e1e1e" stroke-width="0.8">550</text>
<path d="M1359.6,1462V1476" stroke="#1a1a1a" stroke-width="4"/>
<path d="M1490.1,1462V1488" stroke="#1a1a1a" stroke-width="4"/>
<text x="1490.1" y="1533.7" font-size="53" text-anchor="middle" fill="#1e1e1e" stroke="#1e1e1e" stroke-width="0.8">600</text>
<path d="M1620.6,1462V1476" stroke="#1a1a1a" stroke-width="4"/>
<path d="M1751.0,1462V1488" stroke="#1a1a1a" stroke-width="4"/>
<text x="1751.0" y="1533.7" font-size="53" text-anchor="middle" fill="#1e1e1e" stroke="#1e1e1e" stroke-width="0.8">650</text>
<path d="M1881.5,1462V1476" stroke="#1a1a1a" stroke-width="4"/>
<path d="M2012.0,1462V1488" stroke="#1a1a1a" stroke-width="4"/>
<text x="2012.0" y="1533.7" font-size="53" text-anchor="middle" fill="#1e1e1e" stroke="#1e1e1e" stroke-width="0.8">700</text>
<text x="830" y="1616" font-size="66" font-weight="bold" fill="#0e0e0e" textLength="537" lengthAdjust="spacingAndGlyphs">Wavelength (nm)</text>
<text transform="translate(82.3,955) rotate(-90)" font-size="66" font-weight="bold" fill="#0e0e0e">Counts(10<tspan font-size="42" dx="7" dy="-29">4</tspan><tspan dy="29">)</tspan></text>
<path d="M1764,99.7H1912" stroke="#111111" stroke-width="6.5" stroke-linecap="round"/>
<text x="1938" y="118.2" font-size="54" fill="#222" stroke="#222" stroke-width="0.8">a</text>
<path d="M1764,166.2H1912" stroke="#ff1a0a" stroke-width="5.5" stroke-linecap="round"/>
<text x="1938" y="184.7" font-size="54" fill="#222" stroke="#222" stroke-width="0.8">b</text>
<path d="M1764,232.5H1912" stroke="#8c10f0" stroke-width="5.5" stroke-linecap="round"/>
<text x="1938" y="251.0" font-size="54" fill="#222" stroke="#222" stroke-width="0.8">c</text>
<path d="M1764,299.0H1912" stroke="#1a10d8" stroke-width="5.5" stroke-linecap="round"/>
<text x="1938" y="317.5" font-size="54" fill="#222" stroke="#222" stroke-width="0.8">d</text>
<path d="M1764,364.7H1912" stroke="#14fff4" stroke-width="5.5" stroke-linecap="round"/>
<text x="1938" y="383.2" font-size="54" fill="#222" stroke="#222" stroke-width="0.8">e</text>
<path d="M1764,431.5H1912" stroke="#f614ec" stroke-width="5.5" stroke-linecap="round"/>
<text x="1938" y="450.0" font-size="54" fill="#222" stroke="#222" stroke-width="0.8">f</text>
<path d="M348.0,545.0L348.0,534.2 349.5,534.2 351.0,534.2 352.5,534.1 354.0,534.1 355.5,534.1 357.0,534.1 358.5,534.1 360.0,534.0 361.5,534.0 363.0,534.0 364.5,534.0 366.0,533.9 367.5,533.9 369.0,533.9 370.5,533.9 372.0,533.9 373.5,533.8 375.0,533.8 376.5,533.8 378.0,533.8 379.5,533.8 381.0,533.7 382.5,533.7 384.0,533.7 385.5,533.7 387.0,533.6 388.5,533.6 390.0,533.6 392.8,533.4 395.0,533.2 396.8,533.0 398.3,532.8 399.4,532.6 400.5,532.3 401.5,531.9 402.6,531.5 403.8,531.0 405.5,530.3 407.0,529.5 408.5,528.6 409.9,527.6 411.3,526.5 412.7,525.3 414.2,524.0 415.7,522.6 417.1,521.2 418.6,519.7 420.1,518.0 421.6,516.2 423.0,514.2 424.5,512.0 426.0,509.5 427.5,506.8 429.0,503.9 430.4,500.9 431.9,497.7 433.4,494.5 434.9,491.3 436.4,488.0 437.8,484.6 439.3,481.2 440.8,477.6 442.3,474.1 443.7,470.6 445.2,467.1 446.7,463.7 448.2,460.2 449.7,456.8 451.1,453.4 452.6,450.0 454.1,446.5 455.6,443.0 457.1,439.4 458.7,435.7 460.2,431.9 461.8,428.2 463.3,424.5 464.7,420.9 466.0,417.5 467.6,413.1 469.0,409.1 470.2,405.1 471.5,401.2 472.8,397.0 474.2,392.6 475.5,388.0 476.9,383.4 478.3,378.7 479.7,374.0 481.1,369.2 482.5,364.4 483.9,359.5 485.3,354.6 486.7,349.7 488.1,344.9 489.5,340.1 490.8,335.2 492.2,330.4 493.6,325.6 495.0,320.6 496.4,315.4 497.7,310.3 499.1,305.6 500.5,301.4 501.9,297.8 503.2,294.6 504.5,291.9 505.9,289.5 507.4,287.6 508.7,286.4 510.1,285.4 511.6,284.8 513.1,284.4 514.5,284.3 516.0,284.2 517.4,284.2 518.9,284.4 520.3,284.7 521.7,285.3 523.2,286.3 524.6,287.6 526.1,289.6 527.6,292.1 529.1,295.0 530.6,298.0 532.0,300.8 533.3,303.1 535.0,306.2 536.5,309.0 537.9,311.0 539.3,311.8 540.8,311.8 542.3,311.1 543.7,308.6 545.1,303.0 546.9,288.8 548.5,270.0 550.2,252.0 551.9,236.9 553.6,222.7 555.3,209.0 557.0,195.4 558.6,182.4 560.3,170.8 562.0,160.6 563.7,151.8 565.4,145.3 567.1,141.7 568.8,140.5 570.5,140.3 572.2,140.3 573.9,141.4 575.6,145.3 577.3,153.3 579.0,164.2 580.7,175.9 582.4,187.5 584.1,199.9 585.8,214.0 587.5,230.4 589.2,248.5 590.9,267.4 592.6,287.5 594.2,308.5 595.9,328.4 597.6,346.1 599.3,362.7 601.0,379.3 602.7,396.5 604.4,413.7 606.1,430.1 607.8,445.7 609.5,460.5 611.2,473.3 612.8,483.4 614.4,491.5 616.3,498.8 617.6,503.0 619.0,506.8 620.6,510.4 622.2,513.7 623.9,516.6 625.2,518.5 626.6,520.3 628.0,521.9 629.4,523.3 630.9,524.6 632.5,525.7 634.1,526.7 635.5,527.4 637.0,528.0 638.5,528.4 640.0,528.7 641.6,528.9 643.2,529.1 645.0,529.2 646.8,529.3 648.1,529.4 649.5,529.4 650.9,529.4 652.4,529.3 653.9,529.3 655.4,529.2 656.9,529.1 658.4,528.9 659.9,528.8 661.4,528.6 662.8,528.5 664.1,528.3 665.8,528.0 667.5,527.7 669.1,527.3 670.6,526.9 672.1,526.5 673.6,526.1 675.1,525.7 676.6,525.3 678.0,525.0 679.6,524.7 681.2,524.5 682.7,524.3 684.2,524.1 685.7,523.9 687.2,523.8 688.6,523.6 690.0,523.5 691.5,523.4 692.8,523.3 694.1,523.3 695.4,523.2 696.8,523.2 698.3,523.1 700.0,523.0 701.3,522.9 702.7,522.8 704.2,522.7 705.9,522.5 707.5,522.4 709.2,522.3 710.8,522.1 712.3,521.9 713.8,521.8 715.0,521.6 716.1,521.4 718.6,520.4 719.9,519.3 721.3,518.8 722.9,519.1 724.5,519.9 726.3,520.6 728.0,521.0 729.4,520.8 730.8,520.3 732.2,519.7 733.6,519.2 735.0,519.0 736.4,519.2 737.9,519.8 739.3,520.4 740.7,520.9 742.0,521.0 743.4,520.3 744.7,519.2 745.9,518.0 747.4,517.5 748.8,517.9 750.3,518.7 751.8,519.8 753.4,520.6 755.0,521.0 756.6,520.6 758.2,519.8 759.9,518.7 761.5,517.9 763.0,517.5 764.5,517.8 765.9,518.4 767.3,519.3 768.6,520.2 770.0,521.0 771.4,521.7 772.7,522.6 774.1,523.3 775.4,523.9 776.9,524.0 778.4,523.6 780.0,522.8 781.6,521.8 783.3,520.8 785.0,520.0 786.5,519.5 787.9,519.1 789.4,518.8 791.0,518.5 792.6,518.4 794.2,518.3 795.7,518.4 797.2,518.6 798.8,518.8 800.3,519.1 801.9,519.5 803.5,519.8 805.0,520.0 806.4,520.2 807.8,520.4 809.1,520.6 810.5,520.7 811.9,520.8 813.4,520.9 815.0,521.0 816.4,521.0 818.0,521.0 819.6,521.0 821.3,521.0 823.0,520.9 824.7,520.8 826.3,520.7 827.7,520.6 828.9,520.5 830.9,520.0 832.1,519.3 833.3,518.8 835.0,518.5 836.2,518.6 837.6,518.8 839.2,519.1 840.8,519.5 842.4,519.9 843.9,520.2 845.2,520.4 846.3,520.5 848.5,519.1 850.0,518.5 851.4,520.7 852.9,524.0 855.0,526.5 856.2,527.0 857.5,527.4 858.9,527.5 860.5,527.6 862.0,527.6 863.5,527.5 865.0,527.5 866.5,527.4 868.0,527.3 869.5,527.1 871.0,526.9 872.4,526.7 873.8,526.6 875.0,526.5 876.7,526.7 878.1,527.0 879.4,527.4 881.0,527.5 882.3,527.4 883.7,527.2 885.2,526.9 886.8,526.6 888.4,526.3 890.0,526.0 891.4,525.7 892.9,525.4 894.4,525.1 895.9,524.8 897.4,524.5 898.8,524.2 900.0,524.0 901.5,523.9 903.0,523.8 904.5,523.6 906.0,523.5 906.5,545.0Z" fill="url(#gi)"/>
<path d="M348.0,534.2L349.5,534.2 351.0,534.2 352.5,534.1 354.0,534.1 355.5,534.1 357.0,534.1 358.5,534.1 360.0,534.0 361.5,534.0 363.0,534.0 364.5,534.0 366.0,533.9 367.5,533.9 369.0,533.9 370.5,533.9 372.0,533.9 373.5,533.8 375.0,533.8 376.5,533.8 378.0,533.8 379.5,533.8 381.0,533.7 382.5,533.7 384.0,533.7 385.5,533.7 387.0,533.6 388.5,533.6 390.0,533.6 392.8,533.4 395.0,533.2 396.8,533.0 398.3,532.8 399.4,532.6 400.5,532.3 401.5,531.9 402.6,531.5 403.8,531.0 405.5,530.3 407.0,529.5 408.5,528.6 409.9,527.6 411.3,526.5 412.7,525.3 414.2,524.0 415.7,522.6 417.1,521.2 418.6,519.7 420.1,518.0 421.6,516.2 423.0,514.2 424.5,512.0 426.0,509.5 427.5,506.8 429.0,503.9 430.4,500.9 431.9,497.7 433.4,494.5 434.9,491.3 436.4,488.0 437.8,484.6 439.3,481.2 440.8,477.6 442.3,474.1 443.7,470.6 445.2,467.1 446.7,463.7 448.2,460.2 449.7,456.8 451.1,453.4 452.6,450.0 454.1,446.5 455.6,443.0 457.1,439.4 458.7,435.7 460.2,431.9 461.8,428.2 463.3,424.5 464.7,420.9 466.0,417.5 467.6,413.1 469.0,409.1 470.2,405.1 471.5,401.2 472.8,397.0 474.2,392.6 475.5,388.0 476.9,383.4 478.3,378.7 479.7,374.0 481.1,369.2 482.5,364.4 483.9,359.5 485.3,354.6 486.7,349.7 488.1,344.9 489.5,340.1 490.8,335.2 492.2,330.4 493.6,325.6 495.0,320.6 496.4,315.4 497.7,310.3 499.1,305.6 500.5,301.4 501.9,297.8 503.2,294.6 504.5,291.9 505.9,289.5 507.4,287.6 508.7,286.4 510.1,285.4 511.6,284.8 513.1,284.4 514.5,284.3 516.0,284.2 517.4,284.2 518.9,284.4 520.3,284.7 521.7,285.3 523.2,286.3 524.6,287.6 526.1,289.6 527.6,292.1 529.1,295.0 530.6,298.0 532.0,300.8 533.3,303.1 535.0,306.2 536.5,309.0 537.9,311.0 539.3,311.8 540.8,311.8 542.3,311.1 543.7,308.6 545.1,303.0 546.9,288.8 548.5,270.0 550.2,252.0 551.9,236.9 553.6,222.7 555.3,209.0 557.0,195.4 558.6,182.4 560.3,170.8 562.0,160.6 563.7,151.8 565.4,145.3 567.1,141.7 568.8,140.5 570.5,140.3 572.2,140.3 573.9,141.4 575.6,145.3 577.3,153.3 579.0,164.2 580.7,175.9 582.4,187.5 584.1,199.9 585.8,214.0 587.5,230.4 589.2,248.5 590.9,267.4 592.6,287.5 594.2,308.5 595.9,328.4 597.6,346.1 599.3,362.7 601.0,379.3 602.7,396.5 604.4,413.7 606.1,430.1 607.8,445.7 609.5,460.5 611.2,473.3 612.8,483.4 614.4,491.5 616.3,498.8 617.6,503.0 619.0,506.8 620.6,510.4 622.2,513.7 623.9,516.6 625.2,518.5 626.6,520.3 628.0,521.9 629.4,523.3 630.9,524.6 632.5,525.7 634.1,526.7 635.5,527.4 637.0,528.0 638.5,528.4 640.0,528.7 641.6,528.9 643.2,529.1 645.0,529.2 646.8,529.3 648.1,529.4 649.5,529.4 650.9,529.4 652.4,529.3 653.9,529.3 655.4,529.2 656.9,529.1 658.4,528.9 659.9,528.8 661.4,528.6 662.8,528.5 664.1,528.3 665.8,528.0 667.5,527.7 669.1,527.3 670.6,526.9 672.1,526.5 673.6,526.1 675.1,525.7 676.6,525.3 678.0,525.0 679.6,524.7 681.2,524.5 682.7,524.3 684.2,524.1 685.7,523.9 687.2,523.8 688.6,523.6 690.0,523.5 691.5,523.4 692.8,523.3 694.1,523.3 695.4,523.2 696.8,523.2 698.3,523.1 700.0,523.0 701.3,522.9 702.7,522.8 704.2,522.7 705.9,522.5 707.5,522.4 709.2,522.3 710.8,522.1 712.3,521.9 713.8,521.8 715.0,521.6 716.1,521.4 718.6,520.4 719.9,519.3 721.3,518.8 722.9,519.1 724.5,519.9 726.3,520.6 728.0,521.0 729.4,520.8 730.8,520.3 732.2,519.7 733.6,519.2 735.0,519.0 736.4,519.2 737.9,519.8 739.3,520.4 740.7,520.9 742.0,521.0 743.4,520.3 744.7,519.2 745.9,518.0 747.4,517.5 748.8,517.9 750.3,518.7 751.8,519.8 753.4,520.6 755.0,521.0 756.6,520.6 758.2,519.8 759.9,518.7 761.5,517.9 763.0,517.5 764.5,517.8 765.9,518.4 767.3,519.3 768.6,520.2 770.0,521.0 771.4,521.7 772.7,522.6 774.1,523.3 775.4,523.9 776.9,524.0 778.4,523.6 780.0,522.8 781.6,521.8 783.3,520.8 785.0,520.0 786.5,519.5 787.9,519.1 789.4,518.8 791.0,518.5 792.6,518.4 794.2,518.3 795.7,518.4 797.2,518.6 798.8,518.8 800.3,519.1 801.9,519.5 803.5,519.8 805.0,520.0 806.4,520.2 807.8,520.4 809.1,520.6 810.5,520.7 811.9,520.8 813.4,520.9 815.0,521.0 816.4,521.0 818.0,521.0 819.6,521.0 821.3,521.0 823.0,520.9 824.7,520.8 826.3,520.7 827.7,520.6 828.9,520.5 830.9,520.0 832.1,519.3 833.3,518.8 835.0,518.5 836.2,518.6 837.6,518.8 839.2,519.1 840.8,519.5 842.4,519.9 843.9,520.2 845.2,520.4 846.3,520.5 848.5,519.1 850.0,518.5 851.4,520.7 852.9,524.0 855.0,526.5 856.2,527.0 857.5,527.4 858.9,527.5 860.5,527.6 862.0,527.6 863.5,527.5 865.0,527.5 866.5,527.4 868.0,527.3 869.5,527.1 871.0,526.9 872.4,526.7 873.8,526.6 875.0,526.5 876.7,526.7 878.1,527.0 879.4,527.4 881.0,527.5 882.3,527.4 883.7,527.2 885.2,526.9 886.8,526.6 888.4,526.3 890.0,526.0 891.4,525.7 892.9,525.4 894.4,525.1 895.9,524.8 897.4,524.5 898.8,524.2 900.0,524.0 901.5,523.9 903.0,523.8 904.5,523.6 906.0,523.5" fill="none" stroke="#141414" stroke-width="3" stroke-linejoin="round"/>
<path d="M348,544.5H907" stroke="#10143c" stroke-width="4.5"/>
<path d="M906.5,523V545" stroke="#0c3a30" stroke-width="2.5"/>
<path d="M572.4,141V545" stroke="#c8203c" stroke-width="3.4" opacity="0.9"/>
<path d="M347.5,86V545" stroke="#1e1e1e" stroke-width="3.5"/>
<path d="M338,534.7H348" stroke="#1e1e1e" stroke-width="3.2"/>
<text x="333.5" y="543.7" font-size="27.5" font-weight="bold" text-anchor="end" fill="#2a2a2a">0</text>
<path d="M343.5,501.6H348" stroke="#1e1e1e" stroke-width="3"/>
<path d="M343.5,468.5H348" stroke="#1e1e1e" stroke-width="3"/>
<path d="M338,435.4H348" stroke="#1e1e1e" stroke-width="3.2"/>
<text x="333.5" y="444.4" font-size="27.5" font-weight="bold" text-anchor="end" fill="#2a2a2a" textLength="82" lengthAdjust="spacingAndGlyphs">10,000</text>
<path d="M343.5,402.3H348" stroke="#1e1e1e" stroke-width="3"/>
<path d="M343.5,369.2H348" stroke="#1e1e1e" stroke-width="3"/>
<path d="M338,336.1H348" stroke="#1e1e1e" stroke-width="3.2"/>
<text x="333.5" y="345.1" font-size="27.5" font-weight="bold" text-anchor="end" fill="#2a2a2a" textLength="82" lengthAdjust="spacingAndGlyphs">20,000</text>
<path d="M343.5,303.0H348" stroke="#1e1e1e" stroke-width="3"/>
<path d="M343.5,269.9H348" stroke="#1e1e1e" stroke-width="3"/>
<path d="M338,236.8H348" stroke="#1e1e1e" stroke-width="3.2"/>
<text x="333.5" y="245.8" font-size="27.5" font-weight="bold" text-anchor="end" fill="#2a2a2a" textLength="82" lengthAdjust="spacingAndGlyphs">30,000</text>
<path d="M343.5,203.7H348" stroke="#1e1e1e" stroke-width="3"/>
<path d="M343.5,170.6H348" stroke="#1e1e1e" stroke-width="3"/>
<path d="M338,137.5H348" stroke="#1e1e1e" stroke-width="3.2"/>
<text x="333.5" y="146.5" font-size="27.5" font-weight="bold" text-anchor="end" fill="#2a2a2a" textLength="82" lengthAdjust="spacingAndGlyphs">40,000</text>
<path d="M343.5,104.4H348" stroke="#1e1e1e" stroke-width="3"/>
<path d="M361.8,545V553" stroke="#1e1e1e" stroke-width="3.2"/>
<text x="361.8" y="581.6" font-size="27.5" font-weight="bold" text-anchor="middle" fill="#2a2a2a" textLength="44" lengthAdjust="spacingAndGlyphs">225</text>
<path d="M431.8,545V553" stroke="#1e1e1e" stroke-width="3.2"/>
<text x="431.8" y="581.6" font-size="27.5" font-weight="bold" text-anchor="middle" fill="#2a2a2a" textLength="44" lengthAdjust="spacingAndGlyphs">250</text>
<path d="M501.8,545V553" stroke="#1e1e1e" stroke-width="3.2"/>
<text x="501.8" y="581.6" font-size="27.5" font-weight="bold" text-anchor="middle" fill="#2a2a2a" textLength="44" lengthAdjust="spacingAndGlyphs">275</text>
<path d="M571.8,545V553" stroke="#1e1e1e" stroke-width="3.2"/>
<text x="571.8" y="581.6" font-size="27.5" font-weight="bold" text-anchor="middle" fill="#2a2a2a" textLength="44" lengthAdjust="spacingAndGlyphs">300</text>
<path d="M641.8,545V553" stroke="#1e1e1e" stroke-width="3.2"/>
<text x="641.8" y="581.6" font-size="27.5" font-weight="bold" text-anchor="middle" fill="#2a2a2a" textLength="44" lengthAdjust="spacingAndGlyphs">325</text>
<path d="M711.8,545V553" stroke="#1e1e1e" stroke-width="3.2"/>
<text x="711.8" y="581.6" font-size="27.5" font-weight="bold" text-anchor="middle" fill="#2a2a2a" textLength="44" lengthAdjust="spacingAndGlyphs">350</text>
<path d="M781.8,545V553" stroke="#1e1e1e" stroke-width="3.2"/>
<text x="781.8" y="581.6" font-size="27.5" font-weight="bold" text-anchor="middle" fill="#2a2a2a" textLength="44" lengthAdjust="spacingAndGlyphs">375</text>
<path d="M851.8,545V553" stroke="#1e1e1e" stroke-width="3.2"/>
<text x="851.8" y="581.6" font-size="27.5" font-weight="bold" text-anchor="middle" fill="#2a2a2a" textLength="44" lengthAdjust="spacingAndGlyphs">400</text>
<text x="592" y="125.1" font-size="44" font-weight="bold" fill="#161616" textLength="492" lengthAdjust="spacingAndGlyphs">Excitation wavelength</text>
<text x="593" y="184" font-size="44.5" font-weight="bold" fill="#161616" textLength="147" lengthAdjust="spacingAndGlyphs">300nm</text>
<text x="380" y="641.8" font-size="44" font-weight="bold" fill="#161616" textLength="447" lengthAdjust="spacingAndGlyphs">Excitation spectrum</text>
</g>
</svg></body></html>
